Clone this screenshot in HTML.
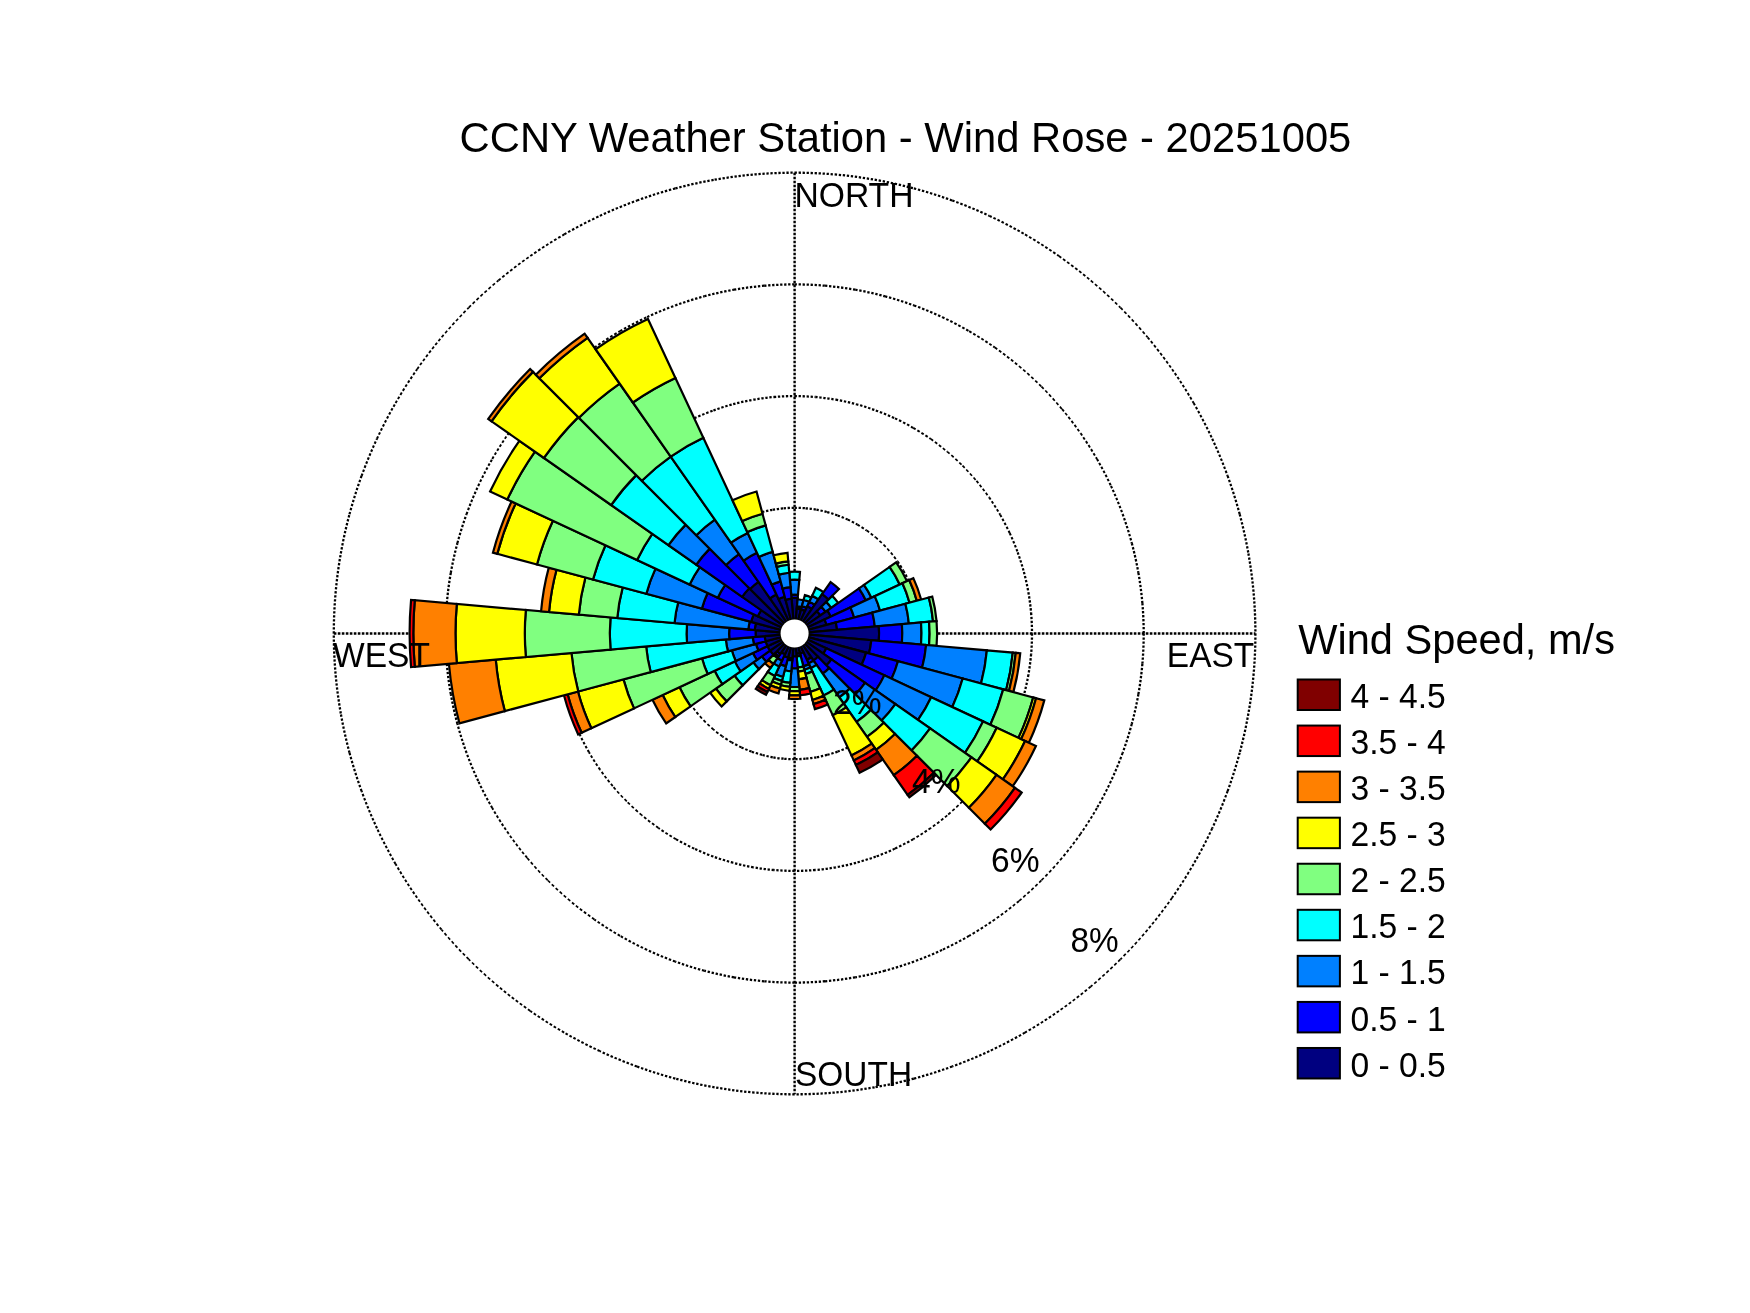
<!DOCTYPE html>
<html><head><meta charset="utf-8"><style>
html,body{margin:0;padding:0;background:#fff;width:1750px;height:1313px;overflow:hidden;position:relative}
</style></head><body>
<svg width="1750" height="1313" viewBox="0 0 1750 1313" style="position:absolute;left:0;top:0;will-change:transform">
<g font-family="Liberation Sans, sans-serif" fill="#000">
<path d="M794.60,507.80 A125.70,125.70 0 0 1 805.56,508.28" fill="none" stroke="#000" stroke-width="2.30" stroke-dasharray="2.30 1.70"/><path d="M805.56,508.28 A125.70,125.70 0 0 1 816.43,509.71" fill="none" stroke="#000" stroke-width="2.28" stroke-dasharray="2.32 1.71"/><path d="M816.43,509.71 A125.70,125.70 0 0 1 827.13,512.08" fill="none" stroke="#000" stroke-width="2.25" stroke-dasharray="2.36 1.74"/><path d="M827.13,512.08 A125.70,125.70 0 0 1 837.59,515.38" fill="none" stroke="#000" stroke-width="2.19" stroke-dasharray="2.41 1.78"/><path d="M837.59,515.38 A125.70,125.70 0 0 1 847.72,519.58" fill="none" stroke="#000" stroke-width="2.12" stroke-dasharray="2.49 1.84"/><path d="M847.72,519.58 A125.70,125.70 0 0 1 857.45,524.64" fill="none" stroke="#000" stroke-width="2.04" stroke-dasharray="2.59 1.92"/><path d="M857.45,524.64 A125.70,125.70 0 0 1 866.70,530.53" fill="none" stroke="#000" stroke-width="1.94" stroke-dasharray="2.73 2.02"/><path d="M866.70,530.53 A125.70,125.70 0 0 1 875.40,537.21" fill="none" stroke="#000" stroke-width="1.82" stroke-dasharray="2.90 2.14"/><path d="M875.40,537.21 A125.70,125.70 0 0 1 883.48,544.62" fill="none" stroke="#000" stroke-width="1.70" stroke-dasharray="3.12 2.31"/><path d="M883.48,544.62 A125.70,125.70 0 0 1 890.89,552.70" fill="none" stroke="#000" stroke-width="1.70" stroke-dasharray="3.12 2.31"/><path d="M890.89,552.70 A125.70,125.70 0 0 1 897.57,561.40" fill="none" stroke="#000" stroke-width="1.82" stroke-dasharray="2.90 2.14"/><path d="M897.57,561.40 A125.70,125.70 0 0 1 903.46,570.65" fill="none" stroke="#000" stroke-width="1.94" stroke-dasharray="2.73 2.02"/><path d="M903.46,570.65 A125.70,125.70 0 0 1 908.52,580.38" fill="none" stroke="#000" stroke-width="2.04" stroke-dasharray="2.59 1.92"/><path d="M908.52,580.38 A125.70,125.70 0 0 1 912.72,590.51" fill="none" stroke="#000" stroke-width="2.12" stroke-dasharray="2.49 1.84"/><path d="M912.72,590.51 A125.70,125.70 0 0 1 916.02,600.97" fill="none" stroke="#000" stroke-width="2.19" stroke-dasharray="2.41 1.78"/><path d="M916.02,600.97 A125.70,125.70 0 0 1 918.39,611.67" fill="none" stroke="#000" stroke-width="2.25" stroke-dasharray="2.36 1.74"/><path d="M918.39,611.67 A125.70,125.70 0 0 1 919.82,622.54" fill="none" stroke="#000" stroke-width="2.28" stroke-dasharray="2.32 1.71"/><path d="M919.82,622.54 A125.70,125.70 0 0 1 920.30,633.50" fill="none" stroke="#000" stroke-width="2.30" stroke-dasharray="2.30 1.70"/><path d="M920.30,633.50 A125.70,125.70 0 0 1 919.82,644.46" fill="none" stroke="#000" stroke-width="2.30" stroke-dasharray="2.30 1.70"/><path d="M919.82,644.46 A125.70,125.70 0 0 1 918.39,655.33" fill="none" stroke="#000" stroke-width="2.28" stroke-dasharray="2.32 1.71"/><path d="M918.39,655.33 A125.70,125.70 0 0 1 916.02,666.03" fill="none" stroke="#000" stroke-width="2.25" stroke-dasharray="2.36 1.74"/><path d="M916.02,666.03 A125.70,125.70 0 0 1 912.72,676.49" fill="none" stroke="#000" stroke-width="2.19" stroke-dasharray="2.41 1.78"/><path d="M912.72,676.49 A125.70,125.70 0 0 1 908.52,686.62" fill="none" stroke="#000" stroke-width="2.12" stroke-dasharray="2.49 1.84"/><path d="M908.52,686.62 A125.70,125.70 0 0 1 903.46,696.35" fill="none" stroke="#000" stroke-width="2.04" stroke-dasharray="2.59 1.92"/><path d="M903.46,696.35 A125.70,125.70 0 0 1 897.57,705.60" fill="none" stroke="#000" stroke-width="1.94" stroke-dasharray="2.73 2.02"/><path d="M897.57,705.60 A125.70,125.70 0 0 1 890.89,714.30" fill="none" stroke="#000" stroke-width="1.82" stroke-dasharray="2.90 2.14"/><path d="M890.89,714.30 A125.70,125.70 0 0 1 883.48,722.38" fill="none" stroke="#000" stroke-width="1.70" stroke-dasharray="3.12 2.31"/><path d="M883.48,722.38 A125.70,125.70 0 0 1 875.40,729.79" fill="none" stroke="#000" stroke-width="1.70" stroke-dasharray="3.12 2.31"/><path d="M875.40,729.79 A125.70,125.70 0 0 1 866.70,736.47" fill="none" stroke="#000" stroke-width="1.82" stroke-dasharray="2.90 2.14"/><path d="M866.70,736.47 A125.70,125.70 0 0 1 857.45,742.36" fill="none" stroke="#000" stroke-width="1.94" stroke-dasharray="2.73 2.02"/><path d="M857.45,742.36 A125.70,125.70 0 0 1 847.72,747.42" fill="none" stroke="#000" stroke-width="2.04" stroke-dasharray="2.59 1.92"/><path d="M847.72,747.42 A125.70,125.70 0 0 1 837.59,751.62" fill="none" stroke="#000" stroke-width="2.12" stroke-dasharray="2.49 1.84"/><path d="M837.59,751.62 A125.70,125.70 0 0 1 827.13,754.92" fill="none" stroke="#000" stroke-width="2.19" stroke-dasharray="2.41 1.78"/><path d="M827.13,754.92 A125.70,125.70 0 0 1 816.43,757.29" fill="none" stroke="#000" stroke-width="2.25" stroke-dasharray="2.36 1.74"/><path d="M816.43,757.29 A125.70,125.70 0 0 1 805.56,758.72" fill="none" stroke="#000" stroke-width="2.28" stroke-dasharray="2.32 1.71"/><path d="M805.56,758.72 A125.70,125.70 0 0 1 794.60,759.20" fill="none" stroke="#000" stroke-width="2.30" stroke-dasharray="2.30 1.70"/><path d="M794.60,759.20 A125.70,125.70 0 0 1 783.64,758.72" fill="none" stroke="#000" stroke-width="2.30" stroke-dasharray="2.30 1.70"/><path d="M783.64,758.72 A125.70,125.70 0 0 1 772.77,757.29" fill="none" stroke="#000" stroke-width="2.28" stroke-dasharray="2.32 1.71"/><path d="M772.77,757.29 A125.70,125.70 0 0 1 762.07,754.92" fill="none" stroke="#000" stroke-width="2.25" stroke-dasharray="2.36 1.74"/><path d="M762.07,754.92 A125.70,125.70 0 0 1 751.61,751.62" fill="none" stroke="#000" stroke-width="2.19" stroke-dasharray="2.41 1.78"/><path d="M751.61,751.62 A125.70,125.70 0 0 1 741.48,747.42" fill="none" stroke="#000" stroke-width="2.12" stroke-dasharray="2.49 1.84"/><path d="M741.48,747.42 A125.70,125.70 0 0 1 731.75,742.36" fill="none" stroke="#000" stroke-width="2.04" stroke-dasharray="2.59 1.92"/><path d="M731.75,742.36 A125.70,125.70 0 0 1 722.50,736.47" fill="none" stroke="#000" stroke-width="1.94" stroke-dasharray="2.73 2.02"/><path d="M722.50,736.47 A125.70,125.70 0 0 1 713.80,729.79" fill="none" stroke="#000" stroke-width="1.82" stroke-dasharray="2.90 2.14"/><path d="M713.80,729.79 A125.70,125.70 0 0 1 705.72,722.38" fill="none" stroke="#000" stroke-width="1.70" stroke-dasharray="3.12 2.31"/><path d="M705.72,722.38 A125.70,125.70 0 0 1 698.31,714.30" fill="none" stroke="#000" stroke-width="1.70" stroke-dasharray="3.12 2.31"/><path d="M698.31,714.30 A125.70,125.70 0 0 1 691.63,705.60" fill="none" stroke="#000" stroke-width="1.82" stroke-dasharray="2.90 2.14"/><path d="M691.63,705.60 A125.70,125.70 0 0 1 685.74,696.35" fill="none" stroke="#000" stroke-width="1.94" stroke-dasharray="2.73 2.02"/><path d="M685.74,696.35 A125.70,125.70 0 0 1 680.68,686.62" fill="none" stroke="#000" stroke-width="2.04" stroke-dasharray="2.59 1.92"/><path d="M680.68,686.62 A125.70,125.70 0 0 1 676.48,676.49" fill="none" stroke="#000" stroke-width="2.12" stroke-dasharray="2.49 1.84"/><path d="M676.48,676.49 A125.70,125.70 0 0 1 673.18,666.03" fill="none" stroke="#000" stroke-width="2.19" stroke-dasharray="2.41 1.78"/><path d="M673.18,666.03 A125.70,125.70 0 0 1 670.81,655.33" fill="none" stroke="#000" stroke-width="2.25" stroke-dasharray="2.36 1.74"/><path d="M670.81,655.33 A125.70,125.70 0 0 1 669.38,644.46" fill="none" stroke="#000" stroke-width="2.28" stroke-dasharray="2.32 1.71"/><path d="M669.38,644.46 A125.70,125.70 0 0 1 668.90,633.50" fill="none" stroke="#000" stroke-width="2.30" stroke-dasharray="2.30 1.70"/><path d="M668.90,633.50 A125.70,125.70 0 0 1 669.38,622.54" fill="none" stroke="#000" stroke-width="2.30" stroke-dasharray="2.30 1.70"/><path d="M669.38,622.54 A125.70,125.70 0 0 1 670.81,611.67" fill="none" stroke="#000" stroke-width="2.28" stroke-dasharray="2.32 1.71"/><path d="M670.81,611.67 A125.70,125.70 0 0 1 673.18,600.97" fill="none" stroke="#000" stroke-width="2.25" stroke-dasharray="2.36 1.74"/><path d="M673.18,600.97 A125.70,125.70 0 0 1 676.48,590.51" fill="none" stroke="#000" stroke-width="2.19" stroke-dasharray="2.41 1.78"/><path d="M676.48,590.51 A125.70,125.70 0 0 1 680.68,580.38" fill="none" stroke="#000" stroke-width="2.12" stroke-dasharray="2.49 1.84"/><path d="M680.68,580.38 A125.70,125.70 0 0 1 685.74,570.65" fill="none" stroke="#000" stroke-width="2.04" stroke-dasharray="2.59 1.92"/><path d="M685.74,570.65 A125.70,125.70 0 0 1 691.63,561.40" fill="none" stroke="#000" stroke-width="1.94" stroke-dasharray="2.73 2.02"/><path d="M691.63,561.40 A125.70,125.70 0 0 1 698.31,552.70" fill="none" stroke="#000" stroke-width="1.82" stroke-dasharray="2.90 2.14"/><path d="M698.31,552.70 A125.70,125.70 0 0 1 705.72,544.62" fill="none" stroke="#000" stroke-width="1.70" stroke-dasharray="3.12 2.31"/><path d="M705.72,544.62 A125.70,125.70 0 0 1 713.80,537.21" fill="none" stroke="#000" stroke-width="1.70" stroke-dasharray="3.12 2.31"/><path d="M713.80,537.21 A125.70,125.70 0 0 1 722.50,530.53" fill="none" stroke="#000" stroke-width="1.82" stroke-dasharray="2.90 2.14"/><path d="M722.50,530.53 A125.70,125.70 0 0 1 731.75,524.64" fill="none" stroke="#000" stroke-width="1.94" stroke-dasharray="2.73 2.02"/><path d="M731.75,524.64 A125.70,125.70 0 0 1 741.48,519.58" fill="none" stroke="#000" stroke-width="2.04" stroke-dasharray="2.59 1.92"/><path d="M741.48,519.58 A125.70,125.70 0 0 1 751.61,515.38" fill="none" stroke="#000" stroke-width="2.12" stroke-dasharray="2.49 1.84"/><path d="M751.61,515.38 A125.70,125.70 0 0 1 762.07,512.08" fill="none" stroke="#000" stroke-width="2.19" stroke-dasharray="2.41 1.78"/><path d="M762.07,512.08 A125.70,125.70 0 0 1 772.77,509.71" fill="none" stroke="#000" stroke-width="2.25" stroke-dasharray="2.36 1.74"/><path d="M772.77,509.71 A125.70,125.70 0 0 1 783.64,508.28" fill="none" stroke="#000" stroke-width="2.28" stroke-dasharray="2.32 1.71"/><path d="M783.64,508.28 A125.70,125.70 0 0 1 794.60,507.80" fill="none" stroke="#000" stroke-width="2.30" stroke-dasharray="2.30 1.70"/><path d="M794.60,396.10 A237.40,237.40 0 0 1 815.29,397.00" fill="none" stroke="#000" stroke-width="2.30" stroke-dasharray="2.30 1.70"/><path d="M815.29,397.00 A237.40,237.40 0 0 1 835.82,399.71" fill="none" stroke="#000" stroke-width="2.28" stroke-dasharray="2.32 1.71"/><path d="M835.82,399.71 A237.40,237.40 0 0 1 856.04,404.19" fill="none" stroke="#000" stroke-width="2.25" stroke-dasharray="2.36 1.74"/><path d="M856.04,404.19 A237.40,237.40 0 0 1 875.80,410.42" fill="none" stroke="#000" stroke-width="2.19" stroke-dasharray="2.41 1.78"/><path d="M875.80,410.42 A237.40,237.40 0 0 1 894.93,418.34" fill="none" stroke="#000" stroke-width="2.12" stroke-dasharray="2.49 1.84"/><path d="M894.93,418.34 A237.40,237.40 0 0 1 913.30,427.91" fill="none" stroke="#000" stroke-width="2.04" stroke-dasharray="2.59 1.92"/><path d="M913.30,427.91 A237.40,237.40 0 0 1 930.77,439.03" fill="none" stroke="#000" stroke-width="1.94" stroke-dasharray="2.73 2.02"/><path d="M930.77,439.03 A237.40,237.40 0 0 1 947.20,451.64" fill="none" stroke="#000" stroke-width="1.82" stroke-dasharray="2.90 2.14"/><path d="M947.20,451.64 A237.40,237.40 0 0 1 962.47,465.63" fill="none" stroke="#000" stroke-width="1.70" stroke-dasharray="3.12 2.31"/><path d="M962.47,465.63 A237.40,237.40 0 0 1 976.46,480.90" fill="none" stroke="#000" stroke-width="1.70" stroke-dasharray="3.12 2.31"/><path d="M976.46,480.90 A237.40,237.40 0 0 1 989.07,497.33" fill="none" stroke="#000" stroke-width="1.82" stroke-dasharray="2.90 2.14"/><path d="M989.07,497.33 A237.40,237.40 0 0 1 1000.19,514.80" fill="none" stroke="#000" stroke-width="1.94" stroke-dasharray="2.73 2.02"/><path d="M1000.19,514.80 A237.40,237.40 0 0 1 1009.76,533.17" fill="none" stroke="#000" stroke-width="2.04" stroke-dasharray="2.59 1.92"/><path d="M1009.76,533.17 A237.40,237.40 0 0 1 1017.68,552.30" fill="none" stroke="#000" stroke-width="2.12" stroke-dasharray="2.49 1.84"/><path d="M1017.68,552.30 A237.40,237.40 0 0 1 1023.91,572.06" fill="none" stroke="#000" stroke-width="2.19" stroke-dasharray="2.41 1.78"/><path d="M1023.91,572.06 A237.40,237.40 0 0 1 1028.39,592.28" fill="none" stroke="#000" stroke-width="2.25" stroke-dasharray="2.36 1.74"/><path d="M1028.39,592.28 A237.40,237.40 0 0 1 1031.10,612.81" fill="none" stroke="#000" stroke-width="2.28" stroke-dasharray="2.32 1.71"/><path d="M1031.10,612.81 A237.40,237.40 0 0 1 1032.00,633.50" fill="none" stroke="#000" stroke-width="2.30" stroke-dasharray="2.30 1.70"/><path d="M1032.00,633.50 A237.40,237.40 0 0 1 1031.10,654.19" fill="none" stroke="#000" stroke-width="2.30" stroke-dasharray="2.30 1.70"/><path d="M1031.10,654.19 A237.40,237.40 0 0 1 1028.39,674.72" fill="none" stroke="#000" stroke-width="2.28" stroke-dasharray="2.32 1.71"/><path d="M1028.39,674.72 A237.40,237.40 0 0 1 1023.91,694.94" fill="none" stroke="#000" stroke-width="2.25" stroke-dasharray="2.36 1.74"/><path d="M1023.91,694.94 A237.40,237.40 0 0 1 1017.68,714.70" fill="none" stroke="#000" stroke-width="2.19" stroke-dasharray="2.41 1.78"/><path d="M1017.68,714.70 A237.40,237.40 0 0 1 1009.76,733.83" fill="none" stroke="#000" stroke-width="2.12" stroke-dasharray="2.49 1.84"/><path d="M1009.76,733.83 A237.40,237.40 0 0 1 1000.19,752.20" fill="none" stroke="#000" stroke-width="2.04" stroke-dasharray="2.59 1.92"/><path d="M1000.19,752.20 A237.40,237.40 0 0 1 989.07,769.67" fill="none" stroke="#000" stroke-width="1.94" stroke-dasharray="2.73 2.02"/><path d="M989.07,769.67 A237.40,237.40 0 0 1 976.46,786.10" fill="none" stroke="#000" stroke-width="1.82" stroke-dasharray="2.90 2.14"/><path d="M976.46,786.10 A237.40,237.40 0 0 1 962.47,801.37" fill="none" stroke="#000" stroke-width="1.70" stroke-dasharray="3.12 2.31"/><path d="M962.47,801.37 A237.40,237.40 0 0 1 947.20,815.36" fill="none" stroke="#000" stroke-width="1.70" stroke-dasharray="3.12 2.31"/><path d="M947.20,815.36 A237.40,237.40 0 0 1 930.77,827.97" fill="none" stroke="#000" stroke-width="1.82" stroke-dasharray="2.90 2.14"/><path d="M930.77,827.97 A237.40,237.40 0 0 1 913.30,839.09" fill="none" stroke="#000" stroke-width="1.94" stroke-dasharray="2.73 2.02"/><path d="M913.30,839.09 A237.40,237.40 0 0 1 894.93,848.66" fill="none" stroke="#000" stroke-width="2.04" stroke-dasharray="2.59 1.92"/><path d="M894.93,848.66 A237.40,237.40 0 0 1 875.80,856.58" fill="none" stroke="#000" stroke-width="2.12" stroke-dasharray="2.49 1.84"/><path d="M875.80,856.58 A237.40,237.40 0 0 1 856.04,862.81" fill="none" stroke="#000" stroke-width="2.19" stroke-dasharray="2.41 1.78"/><path d="M856.04,862.81 A237.40,237.40 0 0 1 835.82,867.29" fill="none" stroke="#000" stroke-width="2.25" stroke-dasharray="2.36 1.74"/><path d="M835.82,867.29 A237.40,237.40 0 0 1 815.29,870.00" fill="none" stroke="#000" stroke-width="2.28" stroke-dasharray="2.32 1.71"/><path d="M815.29,870.00 A237.40,237.40 0 0 1 794.60,870.90" fill="none" stroke="#000" stroke-width="2.30" stroke-dasharray="2.30 1.70"/><path d="M794.60,870.90 A237.40,237.40 0 0 1 773.91,870.00" fill="none" stroke="#000" stroke-width="2.30" stroke-dasharray="2.30 1.70"/><path d="M773.91,870.00 A237.40,237.40 0 0 1 753.38,867.29" fill="none" stroke="#000" stroke-width="2.28" stroke-dasharray="2.32 1.71"/><path d="M753.38,867.29 A237.40,237.40 0 0 1 733.16,862.81" fill="none" stroke="#000" stroke-width="2.25" stroke-dasharray="2.36 1.74"/><path d="M733.16,862.81 A237.40,237.40 0 0 1 713.40,856.58" fill="none" stroke="#000" stroke-width="2.19" stroke-dasharray="2.41 1.78"/><path d="M713.40,856.58 A237.40,237.40 0 0 1 694.27,848.66" fill="none" stroke="#000" stroke-width="2.12" stroke-dasharray="2.49 1.84"/><path d="M694.27,848.66 A237.40,237.40 0 0 1 675.90,839.09" fill="none" stroke="#000" stroke-width="2.04" stroke-dasharray="2.59 1.92"/><path d="M675.90,839.09 A237.40,237.40 0 0 1 658.43,827.97" fill="none" stroke="#000" stroke-width="1.94" stroke-dasharray="2.73 2.02"/><path d="M658.43,827.97 A237.40,237.40 0 0 1 642.00,815.36" fill="none" stroke="#000" stroke-width="1.82" stroke-dasharray="2.90 2.14"/><path d="M642.00,815.36 A237.40,237.40 0 0 1 626.73,801.37" fill="none" stroke="#000" stroke-width="1.70" stroke-dasharray="3.12 2.31"/><path d="M626.73,801.37 A237.40,237.40 0 0 1 612.74,786.10" fill="none" stroke="#000" stroke-width="1.70" stroke-dasharray="3.12 2.31"/><path d="M612.74,786.10 A237.40,237.40 0 0 1 600.13,769.67" fill="none" stroke="#000" stroke-width="1.82" stroke-dasharray="2.90 2.14"/><path d="M600.13,769.67 A237.40,237.40 0 0 1 589.01,752.20" fill="none" stroke="#000" stroke-width="1.94" stroke-dasharray="2.73 2.02"/><path d="M589.01,752.20 A237.40,237.40 0 0 1 579.44,733.83" fill="none" stroke="#000" stroke-width="2.04" stroke-dasharray="2.59 1.92"/><path d="M579.44,733.83 A237.40,237.40 0 0 1 571.52,714.70" fill="none" stroke="#000" stroke-width="2.12" stroke-dasharray="2.49 1.84"/><path d="M571.52,714.70 A237.40,237.40 0 0 1 565.29,694.94" fill="none" stroke="#000" stroke-width="2.19" stroke-dasharray="2.41 1.78"/><path d="M565.29,694.94 A237.40,237.40 0 0 1 560.81,674.72" fill="none" stroke="#000" stroke-width="2.25" stroke-dasharray="2.36 1.74"/><path d="M560.81,674.72 A237.40,237.40 0 0 1 558.10,654.19" fill="none" stroke="#000" stroke-width="2.28" stroke-dasharray="2.32 1.71"/><path d="M558.10,654.19 A237.40,237.40 0 0 1 557.20,633.50" fill="none" stroke="#000" stroke-width="2.30" stroke-dasharray="2.30 1.70"/><path d="M557.20,633.50 A237.40,237.40 0 0 1 558.10,612.81" fill="none" stroke="#000" stroke-width="2.30" stroke-dasharray="2.30 1.70"/><path d="M558.10,612.81 A237.40,237.40 0 0 1 560.81,592.28" fill="none" stroke="#000" stroke-width="2.28" stroke-dasharray="2.32 1.71"/><path d="M560.81,592.28 A237.40,237.40 0 0 1 565.29,572.06" fill="none" stroke="#000" stroke-width="2.25" stroke-dasharray="2.36 1.74"/><path d="M565.29,572.06 A237.40,237.40 0 0 1 571.52,552.30" fill="none" stroke="#000" stroke-width="2.19" stroke-dasharray="2.41 1.78"/><path d="M571.52,552.30 A237.40,237.40 0 0 1 579.44,533.17" fill="none" stroke="#000" stroke-width="2.12" stroke-dasharray="2.49 1.84"/><path d="M579.44,533.17 A237.40,237.40 0 0 1 589.01,514.80" fill="none" stroke="#000" stroke-width="2.04" stroke-dasharray="2.59 1.92"/><path d="M589.01,514.80 A237.40,237.40 0 0 1 600.13,497.33" fill="none" stroke="#000" stroke-width="1.94" stroke-dasharray="2.73 2.02"/><path d="M600.13,497.33 A237.40,237.40 0 0 1 612.74,480.90" fill="none" stroke="#000" stroke-width="1.82" stroke-dasharray="2.90 2.14"/><path d="M612.74,480.90 A237.40,237.40 0 0 1 626.73,465.63" fill="none" stroke="#000" stroke-width="1.70" stroke-dasharray="3.12 2.31"/><path d="M626.73,465.63 A237.40,237.40 0 0 1 642.00,451.64" fill="none" stroke="#000" stroke-width="1.70" stroke-dasharray="3.12 2.31"/><path d="M642.00,451.64 A237.40,237.40 0 0 1 658.43,439.03" fill="none" stroke="#000" stroke-width="1.82" stroke-dasharray="2.90 2.14"/><path d="M658.43,439.03 A237.40,237.40 0 0 1 675.90,427.91" fill="none" stroke="#000" stroke-width="1.94" stroke-dasharray="2.73 2.02"/><path d="M675.90,427.91 A237.40,237.40 0 0 1 694.27,418.34" fill="none" stroke="#000" stroke-width="2.04" stroke-dasharray="2.59 1.92"/><path d="M694.27,418.34 A237.40,237.40 0 0 1 713.40,410.42" fill="none" stroke="#000" stroke-width="2.12" stroke-dasharray="2.49 1.84"/><path d="M713.40,410.42 A237.40,237.40 0 0 1 733.16,404.19" fill="none" stroke="#000" stroke-width="2.19" stroke-dasharray="2.41 1.78"/><path d="M733.16,404.19 A237.40,237.40 0 0 1 753.38,399.71" fill="none" stroke="#000" stroke-width="2.25" stroke-dasharray="2.36 1.74"/><path d="M753.38,399.71 A237.40,237.40 0 0 1 773.91,397.00" fill="none" stroke="#000" stroke-width="2.28" stroke-dasharray="2.32 1.71"/><path d="M773.91,397.00 A237.40,237.40 0 0 1 794.60,396.10" fill="none" stroke="#000" stroke-width="2.30" stroke-dasharray="2.30 1.70"/><path d="M794.60,284.40 A349.10,349.10 0 0 1 825.03,285.73" fill="none" stroke="#000" stroke-width="2.30" stroke-dasharray="2.30 1.70"/><path d="M825.03,285.73 A349.10,349.10 0 0 1 855.22,289.70" fill="none" stroke="#000" stroke-width="2.28" stroke-dasharray="2.32 1.71"/><path d="M855.22,289.70 A349.10,349.10 0 0 1 884.95,296.30" fill="none" stroke="#000" stroke-width="2.25" stroke-dasharray="2.36 1.74"/><path d="M884.95,296.30 A349.10,349.10 0 0 1 914.00,305.45" fill="none" stroke="#000" stroke-width="2.19" stroke-dasharray="2.41 1.78"/><path d="M914.00,305.45 A349.10,349.10 0 0 1 942.14,317.11" fill="none" stroke="#000" stroke-width="2.12" stroke-dasharray="2.49 1.84"/><path d="M942.14,317.11 A349.10,349.10 0 0 1 969.15,331.17" fill="none" stroke="#000" stroke-width="2.04" stroke-dasharray="2.59 1.92"/><path d="M969.15,331.17 A349.10,349.10 0 0 1 994.84,347.53" fill="none" stroke="#000" stroke-width="1.94" stroke-dasharray="2.73 2.02"/><path d="M994.84,347.53 A349.10,349.10 0 0 1 1019.00,366.07" fill="none" stroke="#000" stroke-width="1.82" stroke-dasharray="2.90 2.14"/><path d="M1019.00,366.07 A349.10,349.10 0 0 1 1041.45,386.65" fill="none" stroke="#000" stroke-width="1.70" stroke-dasharray="3.12 2.31"/><path d="M1041.45,386.65 A349.10,349.10 0 0 1 1062.03,409.10" fill="none" stroke="#000" stroke-width="1.70" stroke-dasharray="3.12 2.31"/><path d="M1062.03,409.10 A349.10,349.10 0 0 1 1080.57,433.26" fill="none" stroke="#000" stroke-width="1.82" stroke-dasharray="2.90 2.14"/><path d="M1080.57,433.26 A349.10,349.10 0 0 1 1096.93,458.95" fill="none" stroke="#000" stroke-width="1.94" stroke-dasharray="2.73 2.02"/><path d="M1096.93,458.95 A349.10,349.10 0 0 1 1110.99,485.96" fill="none" stroke="#000" stroke-width="2.04" stroke-dasharray="2.59 1.92"/><path d="M1110.99,485.96 A349.10,349.10 0 0 1 1122.65,514.10" fill="none" stroke="#000" stroke-width="2.12" stroke-dasharray="2.49 1.84"/><path d="M1122.65,514.10 A349.10,349.10 0 0 1 1131.80,543.15" fill="none" stroke="#000" stroke-width="2.19" stroke-dasharray="2.41 1.78"/><path d="M1131.80,543.15 A349.10,349.10 0 0 1 1138.40,572.88" fill="none" stroke="#000" stroke-width="2.25" stroke-dasharray="2.36 1.74"/><path d="M1138.40,572.88 A349.10,349.10 0 0 1 1142.37,603.07" fill="none" stroke="#000" stroke-width="2.28" stroke-dasharray="2.32 1.71"/><path d="M1142.37,603.07 A349.10,349.10 0 0 1 1143.70,633.50" fill="none" stroke="#000" stroke-width="2.30" stroke-dasharray="2.30 1.70"/><path d="M1143.70,633.50 A349.10,349.10 0 0 1 1142.37,663.93" fill="none" stroke="#000" stroke-width="2.30" stroke-dasharray="2.30 1.70"/><path d="M1142.37,663.93 A349.10,349.10 0 0 1 1138.40,694.12" fill="none" stroke="#000" stroke-width="2.28" stroke-dasharray="2.32 1.71"/><path d="M1138.40,694.12 A349.10,349.10 0 0 1 1131.80,723.85" fill="none" stroke="#000" stroke-width="2.25" stroke-dasharray="2.36 1.74"/><path d="M1131.80,723.85 A349.10,349.10 0 0 1 1122.65,752.90" fill="none" stroke="#000" stroke-width="2.19" stroke-dasharray="2.41 1.78"/><path d="M1122.65,752.90 A349.10,349.10 0 0 1 1110.99,781.04" fill="none" stroke="#000" stroke-width="2.12" stroke-dasharray="2.49 1.84"/><path d="M1110.99,781.04 A349.10,349.10 0 0 1 1096.93,808.05" fill="none" stroke="#000" stroke-width="2.04" stroke-dasharray="2.59 1.92"/><path d="M1096.93,808.05 A349.10,349.10 0 0 1 1080.57,833.74" fill="none" stroke="#000" stroke-width="1.94" stroke-dasharray="2.73 2.02"/><path d="M1080.57,833.74 A349.10,349.10 0 0 1 1062.03,857.90" fill="none" stroke="#000" stroke-width="1.82" stroke-dasharray="2.90 2.14"/><path d="M1062.03,857.90 A349.10,349.10 0 0 1 1041.45,880.35" fill="none" stroke="#000" stroke-width="1.70" stroke-dasharray="3.12 2.31"/><path d="M1041.45,880.35 A349.10,349.10 0 0 1 1019.00,900.93" fill="none" stroke="#000" stroke-width="1.70" stroke-dasharray="3.12 2.31"/><path d="M1019.00,900.93 A349.10,349.10 0 0 1 994.84,919.47" fill="none" stroke="#000" stroke-width="1.82" stroke-dasharray="2.90 2.14"/><path d="M994.84,919.47 A349.10,349.10 0 0 1 969.15,935.83" fill="none" stroke="#000" stroke-width="1.94" stroke-dasharray="2.73 2.02"/><path d="M969.15,935.83 A349.10,349.10 0 0 1 942.14,949.89" fill="none" stroke="#000" stroke-width="2.04" stroke-dasharray="2.59 1.92"/><path d="M942.14,949.89 A349.10,349.10 0 0 1 914.00,961.55" fill="none" stroke="#000" stroke-width="2.12" stroke-dasharray="2.49 1.84"/><path d="M914.00,961.55 A349.10,349.10 0 0 1 884.95,970.70" fill="none" stroke="#000" stroke-width="2.19" stroke-dasharray="2.41 1.78"/><path d="M884.95,970.70 A349.10,349.10 0 0 1 855.22,977.30" fill="none" stroke="#000" stroke-width="2.25" stroke-dasharray="2.36 1.74"/><path d="M855.22,977.30 A349.10,349.10 0 0 1 825.03,981.27" fill="none" stroke="#000" stroke-width="2.28" stroke-dasharray="2.32 1.71"/><path d="M825.03,981.27 A349.10,349.10 0 0 1 794.60,982.60" fill="none" stroke="#000" stroke-width="2.30" stroke-dasharray="2.30 1.70"/><path d="M794.60,982.60 A349.10,349.10 0 0 1 764.17,981.27" fill="none" stroke="#000" stroke-width="2.30" stroke-dasharray="2.30 1.70"/><path d="M764.17,981.27 A349.10,349.10 0 0 1 733.98,977.30" fill="none" stroke="#000" stroke-width="2.28" stroke-dasharray="2.32 1.71"/><path d="M733.98,977.30 A349.10,349.10 0 0 1 704.25,970.70" fill="none" stroke="#000" stroke-width="2.25" stroke-dasharray="2.36 1.74"/><path d="M704.25,970.70 A349.10,349.10 0 0 1 675.20,961.55" fill="none" stroke="#000" stroke-width="2.19" stroke-dasharray="2.41 1.78"/><path d="M675.20,961.55 A349.10,349.10 0 0 1 647.06,949.89" fill="none" stroke="#000" stroke-width="2.12" stroke-dasharray="2.49 1.84"/><path d="M647.06,949.89 A349.10,349.10 0 0 1 620.05,935.83" fill="none" stroke="#000" stroke-width="2.04" stroke-dasharray="2.59 1.92"/><path d="M620.05,935.83 A349.10,349.10 0 0 1 594.36,919.47" fill="none" stroke="#000" stroke-width="1.94" stroke-dasharray="2.73 2.02"/><path d="M594.36,919.47 A349.10,349.10 0 0 1 570.20,900.93" fill="none" stroke="#000" stroke-width="1.82" stroke-dasharray="2.90 2.14"/><path d="M570.20,900.93 A349.10,349.10 0 0 1 547.75,880.35" fill="none" stroke="#000" stroke-width="1.70" stroke-dasharray="3.12 2.31"/><path d="M547.75,880.35 A349.10,349.10 0 0 1 527.17,857.90" fill="none" stroke="#000" stroke-width="1.70" stroke-dasharray="3.12 2.31"/><path d="M527.17,857.90 A349.10,349.10 0 0 1 508.63,833.74" fill="none" stroke="#000" stroke-width="1.82" stroke-dasharray="2.90 2.14"/><path d="M508.63,833.74 A349.10,349.10 0 0 1 492.27,808.05" fill="none" stroke="#000" stroke-width="1.94" stroke-dasharray="2.73 2.02"/><path d="M492.27,808.05 A349.10,349.10 0 0 1 478.21,781.04" fill="none" stroke="#000" stroke-width="2.04" stroke-dasharray="2.59 1.92"/><path d="M478.21,781.04 A349.10,349.10 0 0 1 466.55,752.90" fill="none" stroke="#000" stroke-width="2.12" stroke-dasharray="2.49 1.84"/><path d="M466.55,752.90 A349.10,349.10 0 0 1 457.40,723.85" fill="none" stroke="#000" stroke-width="2.19" stroke-dasharray="2.41 1.78"/><path d="M457.40,723.85 A349.10,349.10 0 0 1 450.80,694.12" fill="none" stroke="#000" stroke-width="2.25" stroke-dasharray="2.36 1.74"/><path d="M450.80,694.12 A349.10,349.10 0 0 1 446.83,663.93" fill="none" stroke="#000" stroke-width="2.28" stroke-dasharray="2.32 1.71"/><path d="M446.83,663.93 A349.10,349.10 0 0 1 445.50,633.50" fill="none" stroke="#000" stroke-width="2.30" stroke-dasharray="2.30 1.70"/><path d="M445.50,633.50 A349.10,349.10 0 0 1 446.83,603.07" fill="none" stroke="#000" stroke-width="2.30" stroke-dasharray="2.30 1.70"/><path d="M446.83,603.07 A349.10,349.10 0 0 1 450.80,572.88" fill="none" stroke="#000" stroke-width="2.28" stroke-dasharray="2.32 1.71"/><path d="M450.80,572.88 A349.10,349.10 0 0 1 457.40,543.15" fill="none" stroke="#000" stroke-width="2.25" stroke-dasharray="2.36 1.74"/><path d="M457.40,543.15 A349.10,349.10 0 0 1 466.55,514.10" fill="none" stroke="#000" stroke-width="2.19" stroke-dasharray="2.41 1.78"/><path d="M466.55,514.10 A349.10,349.10 0 0 1 478.21,485.96" fill="none" stroke="#000" stroke-width="2.12" stroke-dasharray="2.49 1.84"/><path d="M478.21,485.96 A349.10,349.10 0 0 1 492.27,458.95" fill="none" stroke="#000" stroke-width="2.04" stroke-dasharray="2.59 1.92"/><path d="M492.27,458.95 A349.10,349.10 0 0 1 508.63,433.26" fill="none" stroke="#000" stroke-width="1.94" stroke-dasharray="2.73 2.02"/><path d="M508.63,433.26 A349.10,349.10 0 0 1 527.17,409.10" fill="none" stroke="#000" stroke-width="1.82" stroke-dasharray="2.90 2.14"/><path d="M527.17,409.10 A349.10,349.10 0 0 1 547.75,386.65" fill="none" stroke="#000" stroke-width="1.70" stroke-dasharray="3.12 2.31"/><path d="M547.75,386.65 A349.10,349.10 0 0 1 570.20,366.07" fill="none" stroke="#000" stroke-width="1.70" stroke-dasharray="3.12 2.31"/><path d="M570.20,366.07 A349.10,349.10 0 0 1 594.36,347.53" fill="none" stroke="#000" stroke-width="1.82" stroke-dasharray="2.90 2.14"/><path d="M594.36,347.53 A349.10,349.10 0 0 1 620.05,331.17" fill="none" stroke="#000" stroke-width="1.94" stroke-dasharray="2.73 2.02"/><path d="M620.05,331.17 A349.10,349.10 0 0 1 647.06,317.11" fill="none" stroke="#000" stroke-width="2.04" stroke-dasharray="2.59 1.92"/><path d="M647.06,317.11 A349.10,349.10 0 0 1 675.20,305.45" fill="none" stroke="#000" stroke-width="2.12" stroke-dasharray="2.49 1.84"/><path d="M675.20,305.45 A349.10,349.10 0 0 1 704.25,296.30" fill="none" stroke="#000" stroke-width="2.19" stroke-dasharray="2.41 1.78"/><path d="M704.25,296.30 A349.10,349.10 0 0 1 733.98,289.70" fill="none" stroke="#000" stroke-width="2.25" stroke-dasharray="2.36 1.74"/><path d="M733.98,289.70 A349.10,349.10 0 0 1 764.17,285.73" fill="none" stroke="#000" stroke-width="2.28" stroke-dasharray="2.32 1.71"/><path d="M764.17,285.73 A349.10,349.10 0 0 1 794.60,284.40" fill="none" stroke="#000" stroke-width="2.30" stroke-dasharray="2.30 1.70"/><path d="M794.60,172.70 A460.80,460.80 0 0 1 834.76,174.45" fill="none" stroke="#000" stroke-width="2.30" stroke-dasharray="2.30 1.70"/><path d="M834.76,174.45 A460.80,460.80 0 0 1 874.62,179.70" fill="none" stroke="#000" stroke-width="2.28" stroke-dasharray="2.32 1.71"/><path d="M874.62,179.70 A460.80,460.80 0 0 1 913.86,188.40" fill="none" stroke="#000" stroke-width="2.25" stroke-dasharray="2.36 1.74"/><path d="M913.86,188.40 A460.80,460.80 0 0 1 952.20,200.49" fill="none" stroke="#000" stroke-width="2.19" stroke-dasharray="2.41 1.78"/><path d="M952.20,200.49 A460.80,460.80 0 0 1 989.34,215.87" fill="none" stroke="#000" stroke-width="2.12" stroke-dasharray="2.49 1.84"/><path d="M989.34,215.87 A460.80,460.80 0 0 1 1025.00,234.44" fill="none" stroke="#000" stroke-width="2.04" stroke-dasharray="2.59 1.92"/><path d="M1025.00,234.44 A460.80,460.80 0 0 1 1058.90,256.03" fill="none" stroke="#000" stroke-width="1.94" stroke-dasharray="2.73 2.02"/><path d="M1058.90,256.03 A460.80,460.80 0 0 1 1090.80,280.51" fill="none" stroke="#000" stroke-width="1.82" stroke-dasharray="2.90 2.14"/><path d="M1090.80,280.51 A460.80,460.80 0 0 1 1120.43,307.67" fill="none" stroke="#000" stroke-width="1.70" stroke-dasharray="3.12 2.31"/><path d="M1120.43,307.67 A460.80,460.80 0 0 1 1147.59,337.30" fill="none" stroke="#000" stroke-width="1.70" stroke-dasharray="3.12 2.31"/><path d="M1147.59,337.30 A460.80,460.80 0 0 1 1172.07,369.20" fill="none" stroke="#000" stroke-width="1.82" stroke-dasharray="2.90 2.14"/><path d="M1172.07,369.20 A460.80,460.80 0 0 1 1193.66,403.10" fill="none" stroke="#000" stroke-width="1.94" stroke-dasharray="2.73 2.02"/><path d="M1193.66,403.10 A460.80,460.80 0 0 1 1212.23,438.76" fill="none" stroke="#000" stroke-width="2.04" stroke-dasharray="2.59 1.92"/><path d="M1212.23,438.76 A460.80,460.80 0 0 1 1227.61,475.90" fill="none" stroke="#000" stroke-width="2.12" stroke-dasharray="2.49 1.84"/><path d="M1227.61,475.90 A460.80,460.80 0 0 1 1239.70,514.24" fill="none" stroke="#000" stroke-width="2.19" stroke-dasharray="2.41 1.78"/><path d="M1239.70,514.24 A460.80,460.80 0 0 1 1248.40,553.48" fill="none" stroke="#000" stroke-width="2.25" stroke-dasharray="2.36 1.74"/><path d="M1248.40,553.48 A460.80,460.80 0 0 1 1253.65,593.34" fill="none" stroke="#000" stroke-width="2.28" stroke-dasharray="2.32 1.71"/><path d="M1253.65,593.34 A460.80,460.80 0 0 1 1255.40,633.50" fill="none" stroke="#000" stroke-width="2.30" stroke-dasharray="2.30 1.70"/><path d="M1255.40,633.50 A460.80,460.80 0 0 1 1253.65,673.66" fill="none" stroke="#000" stroke-width="2.30" stroke-dasharray="2.30 1.70"/><path d="M1253.65,673.66 A460.80,460.80 0 0 1 1248.40,713.52" fill="none" stroke="#000" stroke-width="2.28" stroke-dasharray="2.32 1.71"/><path d="M1248.40,713.52 A460.80,460.80 0 0 1 1239.70,752.76" fill="none" stroke="#000" stroke-width="2.25" stroke-dasharray="2.36 1.74"/><path d="M1239.70,752.76 A460.80,460.80 0 0 1 1227.61,791.10" fill="none" stroke="#000" stroke-width="2.19" stroke-dasharray="2.41 1.78"/><path d="M1227.61,791.10 A460.80,460.80 0 0 1 1212.23,828.24" fill="none" stroke="#000" stroke-width="2.12" stroke-dasharray="2.49 1.84"/><path d="M1212.23,828.24 A460.80,460.80 0 0 1 1193.66,863.90" fill="none" stroke="#000" stroke-width="2.04" stroke-dasharray="2.59 1.92"/><path d="M1193.66,863.90 A460.80,460.80 0 0 1 1172.07,897.80" fill="none" stroke="#000" stroke-width="1.94" stroke-dasharray="2.73 2.02"/><path d="M1172.07,897.80 A460.80,460.80 0 0 1 1147.59,929.70" fill="none" stroke="#000" stroke-width="1.82" stroke-dasharray="2.90 2.14"/><path d="M1147.59,929.70 A460.80,460.80 0 0 1 1120.43,959.33" fill="none" stroke="#000" stroke-width="1.70" stroke-dasharray="3.12 2.31"/><path d="M1120.43,959.33 A460.80,460.80 0 0 1 1090.80,986.49" fill="none" stroke="#000" stroke-width="1.70" stroke-dasharray="3.12 2.31"/><path d="M1090.80,986.49 A460.80,460.80 0 0 1 1058.90,1010.97" fill="none" stroke="#000" stroke-width="1.82" stroke-dasharray="2.90 2.14"/><path d="M1058.90,1010.97 A460.80,460.80 0 0 1 1025.00,1032.56" fill="none" stroke="#000" stroke-width="1.94" stroke-dasharray="2.73 2.02"/><path d="M1025.00,1032.56 A460.80,460.80 0 0 1 989.34,1051.13" fill="none" stroke="#000" stroke-width="2.04" stroke-dasharray="2.59 1.92"/><path d="M989.34,1051.13 A460.80,460.80 0 0 1 952.20,1066.51" fill="none" stroke="#000" stroke-width="2.12" stroke-dasharray="2.49 1.84"/><path d="M952.20,1066.51 A460.80,460.80 0 0 1 913.86,1078.60" fill="none" stroke="#000" stroke-width="2.19" stroke-dasharray="2.41 1.78"/><path d="M913.86,1078.60 A460.80,460.80 0 0 1 874.62,1087.30" fill="none" stroke="#000" stroke-width="2.25" stroke-dasharray="2.36 1.74"/><path d="M874.62,1087.30 A460.80,460.80 0 0 1 834.76,1092.55" fill="none" stroke="#000" stroke-width="2.28" stroke-dasharray="2.32 1.71"/><path d="M834.76,1092.55 A460.80,460.80 0 0 1 794.60,1094.30" fill="none" stroke="#000" stroke-width="2.30" stroke-dasharray="2.30 1.70"/><path d="M794.60,1094.30 A460.80,460.80 0 0 1 754.44,1092.55" fill="none" stroke="#000" stroke-width="2.30" stroke-dasharray="2.30 1.70"/><path d="M754.44,1092.55 A460.80,460.80 0 0 1 714.58,1087.30" fill="none" stroke="#000" stroke-width="2.28" stroke-dasharray="2.32 1.71"/><path d="M714.58,1087.30 A460.80,460.80 0 0 1 675.34,1078.60" fill="none" stroke="#000" stroke-width="2.25" stroke-dasharray="2.36 1.74"/><path d="M675.34,1078.60 A460.80,460.80 0 0 1 637.00,1066.51" fill="none" stroke="#000" stroke-width="2.19" stroke-dasharray="2.41 1.78"/><path d="M637.00,1066.51 A460.80,460.80 0 0 1 599.86,1051.13" fill="none" stroke="#000" stroke-width="2.12" stroke-dasharray="2.49 1.84"/><path d="M599.86,1051.13 A460.80,460.80 0 0 1 564.20,1032.56" fill="none" stroke="#000" stroke-width="2.04" stroke-dasharray="2.59 1.92"/><path d="M564.20,1032.56 A460.80,460.80 0 0 1 530.30,1010.97" fill="none" stroke="#000" stroke-width="1.94" stroke-dasharray="2.73 2.02"/><path d="M530.30,1010.97 A460.80,460.80 0 0 1 498.40,986.49" fill="none" stroke="#000" stroke-width="1.82" stroke-dasharray="2.90 2.14"/><path d="M498.40,986.49 A460.80,460.80 0 0 1 468.77,959.33" fill="none" stroke="#000" stroke-width="1.70" stroke-dasharray="3.12 2.31"/><path d="M468.77,959.33 A460.80,460.80 0 0 1 441.61,929.70" fill="none" stroke="#000" stroke-width="1.70" stroke-dasharray="3.12 2.31"/><path d="M441.61,929.70 A460.80,460.80 0 0 1 417.13,897.80" fill="none" stroke="#000" stroke-width="1.82" stroke-dasharray="2.90 2.14"/><path d="M417.13,897.80 A460.80,460.80 0 0 1 395.54,863.90" fill="none" stroke="#000" stroke-width="1.94" stroke-dasharray="2.73 2.02"/><path d="M395.54,863.90 A460.80,460.80 0 0 1 376.97,828.24" fill="none" stroke="#000" stroke-width="2.04" stroke-dasharray="2.59 1.92"/><path d="M376.97,828.24 A460.80,460.80 0 0 1 361.59,791.10" fill="none" stroke="#000" stroke-width="2.12" stroke-dasharray="2.49 1.84"/><path d="M361.59,791.10 A460.80,460.80 0 0 1 349.50,752.76" fill="none" stroke="#000" stroke-width="2.19" stroke-dasharray="2.41 1.78"/><path d="M349.50,752.76 A460.80,460.80 0 0 1 340.80,713.52" fill="none" stroke="#000" stroke-width="2.25" stroke-dasharray="2.36 1.74"/><path d="M340.80,713.52 A460.80,460.80 0 0 1 335.55,673.66" fill="none" stroke="#000" stroke-width="2.28" stroke-dasharray="2.32 1.71"/><path d="M335.55,673.66 A460.80,460.80 0 0 1 333.80,633.50" fill="none" stroke="#000" stroke-width="2.30" stroke-dasharray="2.30 1.70"/><path d="M333.80,633.50 A460.80,460.80 0 0 1 335.55,593.34" fill="none" stroke="#000" stroke-width="2.30" stroke-dasharray="2.30 1.70"/><path d="M335.55,593.34 A460.80,460.80 0 0 1 340.80,553.48" fill="none" stroke="#000" stroke-width="2.28" stroke-dasharray="2.32 1.71"/><path d="M340.80,553.48 A460.80,460.80 0 0 1 349.50,514.24" fill="none" stroke="#000" stroke-width="2.25" stroke-dasharray="2.36 1.74"/><path d="M349.50,514.24 A460.80,460.80 0 0 1 361.59,475.90" fill="none" stroke="#000" stroke-width="2.19" stroke-dasharray="2.41 1.78"/><path d="M361.59,475.90 A460.80,460.80 0 0 1 376.97,438.76" fill="none" stroke="#000" stroke-width="2.12" stroke-dasharray="2.49 1.84"/><path d="M376.97,438.76 A460.80,460.80 0 0 1 395.54,403.10" fill="none" stroke="#000" stroke-width="2.04" stroke-dasharray="2.59 1.92"/><path d="M395.54,403.10 A460.80,460.80 0 0 1 417.13,369.20" fill="none" stroke="#000" stroke-width="1.94" stroke-dasharray="2.73 2.02"/><path d="M417.13,369.20 A460.80,460.80 0 0 1 441.61,337.30" fill="none" stroke="#000" stroke-width="1.82" stroke-dasharray="2.90 2.14"/><path d="M441.61,337.30 A460.80,460.80 0 0 1 468.77,307.67" fill="none" stroke="#000" stroke-width="1.70" stroke-dasharray="3.12 2.31"/><path d="M468.77,307.67 A460.80,460.80 0 0 1 498.40,280.51" fill="none" stroke="#000" stroke-width="1.70" stroke-dasharray="3.12 2.31"/><path d="M498.40,280.51 A460.80,460.80 0 0 1 530.30,256.03" fill="none" stroke="#000" stroke-width="1.82" stroke-dasharray="2.90 2.14"/><path d="M530.30,256.03 A460.80,460.80 0 0 1 564.20,234.44" fill="none" stroke="#000" stroke-width="1.94" stroke-dasharray="2.73 2.02"/><path d="M564.20,234.44 A460.80,460.80 0 0 1 599.86,215.87" fill="none" stroke="#000" stroke-width="2.04" stroke-dasharray="2.59 1.92"/><path d="M599.86,215.87 A460.80,460.80 0 0 1 637.00,200.49" fill="none" stroke="#000" stroke-width="2.12" stroke-dasharray="2.49 1.84"/><path d="M637.00,200.49 A460.80,460.80 0 0 1 675.34,188.40" fill="none" stroke="#000" stroke-width="2.19" stroke-dasharray="2.41 1.78"/><path d="M675.34,188.40 A460.80,460.80 0 0 1 714.58,179.70" fill="none" stroke="#000" stroke-width="2.25" stroke-dasharray="2.36 1.74"/><path d="M714.58,179.70 A460.80,460.80 0 0 1 754.44,174.45" fill="none" stroke="#000" stroke-width="2.28" stroke-dasharray="2.32 1.71"/><path d="M754.44,174.45 A460.80,460.80 0 0 1 794.60,172.70" fill="none" stroke="#000" stroke-width="2.30" stroke-dasharray="2.30 1.70"/><line x1="794.6" y1="172.70" x2="794.6" y2="1094.30" stroke="#000" stroke-width="2.4" stroke-dasharray="2.6 1.4"/><line x1="333.80" y1="633.5" x2="1255.40" y2="633.5" stroke="#000" stroke-width="2.4" stroke-dasharray="2.6 1.4"/>
<g stroke="#000" stroke-width="2.2" stroke-linejoin="miter"><path d="M793.38,619.55 L791.49,597.94 A35.70,35.70 0 0 1 797.71,597.94 L795.82,619.55 A14.00,14.00 0 0 0 793.38,619.55 Z" fill="#000080"/><path d="M791.49,597.94 L791.22,594.85 A38.80,38.80 0 0 1 797.98,594.85 L797.71,597.94 A35.70,35.70 0 0 0 791.49,597.94 Z" fill="#0000FF"/><path d="M791.22,594.85 L789.91,579.90 A53.80,53.80 0 0 1 799.29,579.90 L797.98,594.85 A38.80,38.80 0 0 0 791.22,594.85 Z" fill="#0080FF"/><path d="M789.91,579.90 L789.21,571.94 A61.80,61.80 0 0 1 799.99,571.94 L799.29,579.90 A53.80,53.80 0 0 0 789.91,579.90 Z" fill="#00FFFF"/><path d="M795.82,619.55 L796.78,608.60 A25.00,25.00 0 0 1 801.07,609.35 L798.22,619.98 A14.00,14.00 0 0 0 795.82,619.55 Z" fill="#000080"/><path d="M796.78,608.60 L796.98,606.30 A27.30,27.30 0 0 1 801.67,607.13 L801.07,609.35 A25.00,25.00 0 0 0 796.78,608.60 Z" fill="#0000FF"/><path d="M796.98,606.30 L797.60,599.23 A34.40,34.40 0 0 1 803.50,600.27 L801.67,607.13 A27.30,27.30 0 0 0 796.98,606.30 Z" fill="#0080FF"/><path d="M798.22,619.98 L801.07,609.35 A25.00,25.00 0 0 1 805.17,610.84 L800.52,620.81 A14.00,14.00 0 0 0 798.22,619.98 Z" fill="#000080"/><path d="M801.07,609.35 L801.92,606.16 A28.30,28.30 0 0 1 806.56,607.85 L805.17,610.84 A25.00,25.00 0 0 0 801.07,609.35 Z" fill="#0000FF"/><path d="M801.92,606.16 L803.66,599.69 A35.00,35.00 0 0 1 809.39,601.78 L806.56,607.85 A28.30,28.30 0 0 0 801.92,606.16 Z" fill="#0080FF"/><path d="M803.66,599.69 L804.88,595.15 A39.70,39.70 0 0 1 811.38,597.52 L809.39,601.78 A35.00,35.00 0 0 0 803.66,599.69 Z" fill="#00FFFF"/><path d="M800.52,620.81 L807.28,606.31 A30.00,30.00 0 0 1 811.81,608.93 L802.63,622.03 A14.00,14.00 0 0 0 800.52,620.81 Z" fill="#000080"/><path d="M807.28,606.31 L809.39,601.78 A35.00,35.00 0 0 1 814.68,604.83 L811.81,608.93 A30.00,30.00 0 0 0 807.28,606.31 Z" fill="#0000FF"/><path d="M809.39,601.78 L812.18,595.80 A41.60,41.60 0 0 1 818.46,599.42 L814.68,604.83 A35.00,35.00 0 0 0 809.39,601.78 Z" fill="#0080FF"/><path d="M812.18,595.80 L815.90,587.82 A50.40,50.40 0 0 1 823.51,592.21 L818.46,599.42 A41.60,41.60 0 0 0 812.18,595.80 Z" fill="#00FFFF"/><path d="M802.63,622.03 L822.13,594.18 A48.00,48.00 0 0 1 828.54,599.56 L804.50,623.60 A14.00,14.00 0 0 0 802.63,622.03 Z" fill="#000080"/><path d="M822.13,594.18 L830.62,582.06 A62.80,62.80 0 0 1 839.01,589.09 L828.54,599.56 A48.00,48.00 0 0 0 822.13,594.18 Z" fill="#0000FF"/><path d="M804.50,623.60 L816.94,611.16 A31.60,31.60 0 0 1 820.49,615.37 L806.07,625.47 A14.00,14.00 0 0 0 804.50,623.60 Z" fill="#000080"/><path d="M816.94,611.16 L821.33,606.77 A37.80,37.80 0 0 1 825.56,611.82 L820.49,615.37 A31.60,31.60 0 0 0 816.94,611.16 Z" fill="#0000FF"/><path d="M821.33,606.77 L826.21,601.89 A44.70,44.70 0 0 1 831.22,607.86 L825.56,611.82 A37.80,37.80 0 0 0 821.33,606.77 Z" fill="#0080FF"/><path d="M826.21,601.89 L832.22,595.88 A53.20,53.20 0 0 1 838.18,602.99 L831.22,607.86 A44.70,44.70 0 0 0 826.21,601.89 Z" fill="#00FFFF"/><path d="M806.07,625.47 L827.37,610.56 A40.00,40.00 0 0 1 830.85,616.60 L807.29,627.58 A14.00,14.00 0 0 0 806.07,625.47 Z" fill="#000080"/><path d="M827.37,610.56 L858.90,588.47 A78.50,78.50 0 0 1 865.75,600.32 L830.85,616.60 A40.00,40.00 0 0 0 827.37,610.56 Z" fill="#0000FF"/><path d="M858.90,588.47 L863.98,584.92 A84.70,84.70 0 0 1 871.36,597.70 L865.75,600.32 A78.50,78.50 0 0 0 858.90,588.47 Z" fill="#0080FF"/><path d="M863.98,584.92 L889.62,566.97 A116.00,116.00 0 0 1 899.73,584.48 L871.36,597.70 A84.70,84.70 0 0 0 863.98,584.92 Z" fill="#00FFFF"/><path d="M889.62,566.97 L896.17,562.38 A124.00,124.00 0 0 1 906.98,581.10 L899.73,584.48 A116.00,116.00 0 0 0 889.62,566.97 Z" fill="#80FF80"/><path d="M807.29,627.58 L824.51,619.55 A33.00,33.00 0 0 1 826.48,624.96 L808.12,629.88 A14.00,14.00 0 0 0 807.29,627.58 Z" fill="#000080"/><path d="M824.51,619.55 L850.43,607.47 A61.60,61.60 0 0 1 854.10,617.56 L826.48,624.96 A33.00,33.00 0 0 0 824.51,619.55 Z" fill="#0000FF"/><path d="M850.43,607.47 L874.72,596.14 A88.40,88.40 0 0 1 879.99,610.62 L854.10,617.56 A61.60,61.60 0 0 0 850.43,607.47 Z" fill="#0080FF"/><path d="M874.72,596.14 L902.45,583.21 A119.00,119.00 0 0 1 909.55,602.70 L879.99,610.62 A88.40,88.40 0 0 0 874.72,596.14 Z" fill="#00FFFF"/><path d="M902.45,583.21 L909.25,580.04 A126.50,126.50 0 0 1 916.79,600.76 L909.55,602.70 A119.00,119.00 0 0 0 902.45,583.21 Z" fill="#80FF80"/><path d="M909.25,580.04 L913.33,578.14 A131.00,131.00 0 0 1 921.14,599.59 L916.79,600.76 A126.50,126.50 0 0 0 909.25,580.04 Z" fill="#FF8000"/><path d="M808.12,629.88 L835.75,622.47 A42.60,42.60 0 0 1 837.04,629.79 L808.55,632.28 A14.00,14.00 0 0 0 808.12,629.88 Z" fill="#000080"/><path d="M835.75,622.47 L872.36,612.67 A80.50,80.50 0 0 1 874.79,626.48 L837.04,629.79 A42.60,42.60 0 0 0 835.75,622.47 Z" fill="#0000FF"/><path d="M872.36,612.67 L905.39,603.81 A114.70,114.70 0 0 1 908.86,623.50 L874.79,626.48 A80.50,80.50 0 0 0 872.36,612.67 Z" fill="#0080FF"/><path d="M905.39,603.81 L928.86,597.52 A139.00,139.00 0 0 1 933.07,621.39 L908.86,623.50 A114.70,114.70 0 0 0 905.39,603.81 Z" fill="#00FFFF"/><path d="M928.86,597.52 L932.24,596.62 A142.50,142.50 0 0 1 936.56,621.08 L933.07,621.39 A139.00,139.00 0 0 0 928.86,597.52 Z" fill="#80FF80"/><path d="M808.55,632.28 L878.78,626.14 A84.50,84.50 0 0 1 878.78,640.86 L808.55,634.72 A14.00,14.00 0 0 0 808.55,632.28 Z" fill="#000080"/><path d="M878.78,626.14 L901.89,624.11 A107.70,107.70 0 0 1 901.89,642.89 L878.78,640.86 A84.50,84.50 0 0 0 878.78,626.14 Z" fill="#0000FF"/><path d="M901.89,624.11 L921.02,622.44 A126.90,126.90 0 0 1 921.02,644.56 L901.89,642.89 A107.70,107.70 0 0 0 901.89,624.11 Z" fill="#0080FF"/><path d="M921.02,622.44 L929.09,621.73 A135.00,135.00 0 0 1 929.09,645.27 L921.02,644.56 A126.90,126.90 0 0 0 921.02,622.44 Z" fill="#00FFFF"/><path d="M929.09,621.73 L936.56,621.08 A142.50,142.50 0 0 1 936.56,645.92 L929.09,645.27 A135.00,135.00 0 0 0 929.09,621.73 Z" fill="#80FF80"/><path d="M808.55,634.72 L871.31,640.21 A77.00,77.00 0 0 1 868.98,653.43 L808.12,637.12 A14.00,14.00 0 0 0 808.55,634.72 Z" fill="#000080"/><path d="M871.31,640.21 L926.10,645.00 A132.00,132.00 0 0 1 922.10,667.66 L868.98,653.43 A77.00,77.00 0 0 0 871.31,640.21 Z" fill="#0000FF"/><path d="M926.10,645.00 L986.87,650.32 A193.00,193.00 0 0 1 981.02,683.45 L922.10,667.66 A132.00,132.00 0 0 0 926.10,645.00 Z" fill="#0080FF"/><path d="M986.87,650.32 L1012.77,652.59 A219.00,219.00 0 0 1 1006.14,690.18 L981.02,683.45 A193.00,193.00 0 0 0 986.87,650.32 Z" fill="#00FFFF"/><path d="M1012.77,652.59 L1015.76,652.85 A222.00,222.00 0 0 1 1009.04,690.96 L1006.14,690.18 A219.00,219.00 0 0 0 1012.77,652.59 Z" fill="#80FF80"/><path d="M1015.76,652.85 L1020.24,653.24 A226.50,226.50 0 0 1 1013.38,692.12 L1009.04,690.96 A222.00,222.00 0 0 0 1015.76,652.85 Z" fill="#FF8000"/><path d="M808.12,637.12 L866.08,652.65 A74.00,74.00 0 0 1 861.67,664.77 L807.29,639.42 A14.00,14.00 0 0 0 808.12,637.12 Z" fill="#000080"/><path d="M866.08,652.65 L897.95,661.19 A107.00,107.00 0 0 1 891.57,678.72 L861.67,664.77 A74.00,74.00 0 0 0 866.08,652.65 Z" fill="#0000FF"/><path d="M897.95,661.19 L962.67,678.53 A174.00,174.00 0 0 1 952.30,707.04 L891.57,678.72 A107.00,107.00 0 0 0 897.95,661.19 Z" fill="#0080FF"/><path d="M962.67,678.53 L1003.24,689.40 A216.00,216.00 0 0 1 990.36,724.79 L952.30,707.04 A174.00,174.00 0 0 0 962.67,678.53 Z" fill="#00FFFF"/><path d="M1003.24,689.40 L1033.18,697.43 A247.00,247.00 0 0 1 1018.46,737.89 L990.36,724.79 A216.00,216.00 0 0 0 1003.24,689.40 Z" fill="#80FF80"/><path d="M1033.18,697.43 L1036.08,698.20 A250.00,250.00 0 0 1 1021.18,739.15 L1018.46,737.89 A247.00,247.00 0 0 0 1033.18,697.43 Z" fill="#FFFF00"/><path d="M1036.08,698.20 L1044.29,700.40 A258.50,258.50 0 0 1 1028.88,742.75 L1021.18,739.15 A250.00,250.00 0 0 0 1036.08,698.20 Z" fill="#FF8000"/><path d="M807.29,639.42 L826.32,648.29 A35.00,35.00 0 0 1 823.27,653.58 L806.07,641.53 A14.00,14.00 0 0 0 807.29,639.42 Z" fill="#000080"/><path d="M826.32,648.29 L884.32,675.34 A99.00,99.00 0 0 1 875.70,690.28 L823.27,653.58 A35.00,35.00 0 0 0 826.32,648.29 Z" fill="#0000FF"/><path d="M884.32,675.34 L931.18,697.19 A150.70,150.70 0 0 1 918.05,719.94 L875.70,690.28 A99.00,99.00 0 0 0 884.32,675.34 Z" fill="#0080FF"/><path d="M931.18,697.19 L983.11,721.40 A208.00,208.00 0 0 1 964.98,752.80 L918.05,719.94 A150.70,150.70 0 0 0 931.18,697.19 Z" fill="#00FFFF"/><path d="M983.11,721.40 L996.71,727.74 A223.00,223.00 0 0 1 977.27,761.41 L964.98,752.80 A208.00,208.00 0 0 0 983.11,721.40 Z" fill="#80FF80"/><path d="M996.71,727.74 L1025.07,740.97 A254.30,254.30 0 0 1 1002.91,779.36 L977.27,761.41 A223.00,223.00 0 0 0 996.71,727.74 Z" fill="#FFFF00"/><path d="M1025.07,740.97 L1035.95,746.04 A266.30,266.30 0 0 1 1012.74,786.24 L1002.91,779.36 A254.30,254.30 0 0 0 1025.07,740.97 Z" fill="#FF8000"/><path d="M806.07,641.53 L831.46,659.31 A45.00,45.00 0 0 1 826.42,665.32 L804.50,643.40 A14.00,14.00 0 0 0 806.07,641.53 Z" fill="#000080"/><path d="M831.46,659.31 L865.05,682.83 A86.00,86.00 0 0 1 855.41,694.31 L826.42,665.32 A45.00,45.00 0 0 0 831.46,659.31 Z" fill="#0000FF"/><path d="M865.05,682.83 L895.36,704.05 A123.00,123.00 0 0 1 881.57,720.47 L855.41,694.31 A86.00,86.00 0 0 0 865.05,682.83 Z" fill="#0080FF"/><path d="M895.36,704.05 L930.09,728.37 A165.40,165.40 0 0 1 911.56,750.46 L881.57,720.47 A123.00,123.00 0 0 0 895.36,704.05 Z" fill="#00FFFF"/><path d="M930.09,728.37 L971.37,757.28 A215.80,215.80 0 0 1 947.19,786.09 L911.56,750.46 A165.40,165.40 0 0 0 930.09,728.37 Z" fill="#80FF80"/><path d="M971.37,757.28 L996.52,774.89 A246.50,246.50 0 0 1 968.90,807.80 L947.19,786.09 A215.80,215.80 0 0 0 971.37,757.28 Z" fill="#FFFF00"/><path d="M996.52,774.89 L1014.95,787.79 A269.00,269.00 0 0 1 984.81,823.71 L968.90,807.80 A246.50,246.50 0 0 0 996.52,774.89 Z" fill="#FF8000"/><path d="M1014.95,787.79 L1021.67,792.50 A277.20,277.20 0 0 1 990.61,829.51 L984.81,823.71 A269.00,269.00 0 0 0 1014.95,787.79 Z" fill="#FF0000"/><path d="M804.50,643.40 L817.93,656.83 A33.00,33.00 0 0 1 813.53,660.53 L802.63,644.97 A14.00,14.00 0 0 0 804.50,643.40 Z" fill="#000080"/><path d="M817.93,656.83 L829.25,668.15 A49.00,49.00 0 0 1 822.71,673.64 L813.53,660.53 A33.00,33.00 0 0 0 817.93,656.83 Z" fill="#0000FF"/><path d="M829.25,668.15 L849.75,688.65 A78.00,78.00 0 0 1 839.34,697.39 L822.71,673.64 A49.00,49.00 0 0 0 829.25,668.15 Z" fill="#0080FF"/><path d="M849.75,688.65 L870.97,709.87 A108.00,108.00 0 0 1 856.55,721.97 L839.34,697.39 A78.00,78.00 0 0 0 849.75,688.65 Z" fill="#00FFFF"/><path d="M870.97,709.87 L883.84,722.74 A126.20,126.20 0 0 1 866.99,736.88 L856.55,721.97 A108.00,108.00 0 0 0 870.97,709.87 Z" fill="#80FF80"/><path d="M883.84,722.74 L895.01,733.91 A142.00,142.00 0 0 1 876.05,749.82 L866.99,736.88 A126.20,126.20 0 0 0 883.84,722.74 Z" fill="#FFFF00"/><path d="M895.01,733.91 L916.93,755.83 A173.00,173.00 0 0 1 893.83,775.21 L876.05,749.82 A142.00,142.00 0 0 0 895.01,733.91 Z" fill="#FF8000"/><path d="M916.93,755.83 L933.90,772.80 A197.00,197.00 0 0 1 907.59,794.87 L893.83,775.21 A173.00,173.00 0 0 0 916.93,755.83 Z" fill="#FF0000"/><path d="M933.90,772.80 L936.02,774.92 A200.00,200.00 0 0 1 909.32,797.33 L907.59,794.87 A197.00,197.00 0 0 0 933.90,772.80 Z" fill="#800000"/><path d="M802.63,644.97 L811.23,657.26 A29.00,29.00 0 0 1 806.86,659.78 L800.52,646.19 A14.00,14.00 0 0 0 802.63,644.97 Z" fill="#000080"/><path d="M811.23,657.26 L813.53,660.53 A33.00,33.00 0 0 1 808.55,663.41 L806.86,659.78 A29.00,29.00 0 0 0 811.23,657.26 Z" fill="#0000FF"/><path d="M813.53,660.53 L816.57,664.87 A38.30,38.30 0 0 1 810.79,668.21 L808.55,663.41 A33.00,33.00 0 0 0 813.53,660.53 Z" fill="#0080FF"/><path d="M816.57,664.87 L833.83,689.53 A68.40,68.40 0 0 1 823.51,695.49 L810.79,668.21 A38.30,38.30 0 0 0 816.57,664.87 Z" fill="#00FFFF"/><path d="M833.83,689.53 L846.28,707.31 A90.10,90.10 0 0 1 832.68,715.16 L823.51,695.49 A68.40,68.40 0 0 0 833.83,689.53 Z" fill="#80FF80"/><path d="M846.28,707.31 L871.75,743.68 A134.50,134.50 0 0 1 851.44,755.40 L832.68,715.16 A90.10,90.10 0 0 0 846.28,707.31 Z" fill="#FFFF00"/><path d="M871.75,743.68 L874.90,748.18 A140.00,140.00 0 0 1 853.77,760.38 L851.44,755.40 A134.50,134.50 0 0 0 871.75,743.68 Z" fill="#FF8000"/><path d="M874.90,748.18 L877.77,752.28 A145.00,145.00 0 0 1 855.88,764.91 L853.77,760.38 A140.00,140.00 0 0 0 874.90,748.18 Z" fill="#FF0000"/><path d="M877.77,752.28 L882.76,759.40 A153.70,153.70 0 0 1 859.56,772.80 L855.88,764.91 A145.00,145.00 0 0 0 877.77,752.28 Z" fill="#800000"/><path d="M800.52,646.19 L803.35,652.26 A20.70,20.70 0 0 1 799.96,653.49 L798.22,647.02 A14.00,14.00 0 0 0 800.52,646.19 Z" fill="#000080"/><path d="M803.35,652.26 L808.97,664.31 A34.00,34.00 0 0 1 803.40,666.34 L799.96,653.49 A20.70,20.70 0 0 0 803.35,652.26 Z" fill="#0000FF"/><path d="M808.97,664.31 L810.45,667.49 A37.50,37.50 0 0 1 804.31,669.72 L803.40,666.34 A34.00,34.00 0 0 0 808.97,664.31 Z" fill="#0080FF"/><path d="M810.45,667.49 L812.31,671.47 A41.90,41.90 0 0 1 805.44,673.97 L804.31,669.72 A37.50,37.50 0 0 0 810.45,667.49 Z" fill="#00FFFF"/><path d="M812.31,671.47 L820.13,688.24 A60.40,60.40 0 0 1 810.23,691.84 L805.44,673.97 A41.90,41.90 0 0 0 812.31,671.47 Z" fill="#80FF80"/><path d="M820.13,688.24 L823.68,695.85 A68.80,68.80 0 0 1 812.41,699.96 L810.23,691.84 A60.40,60.40 0 0 0 820.13,688.24 Z" fill="#FFFF00"/><path d="M823.68,695.85 L825.49,699.75 A73.10,73.10 0 0 1 813.52,704.11 L812.41,699.96 A68.80,68.80 0 0 0 823.68,695.85 Z" fill="#FF8000"/><path d="M825.49,699.75 L827.69,704.46 A78.30,78.30 0 0 1 814.87,709.13 L813.52,704.11 A73.10,73.10 0 0 0 825.49,699.75 Z" fill="#FF0000"/><path d="M798.22,647.02 L799.91,653.30 A20.50,20.50 0 0 1 796.39,653.92 L795.82,647.45 A14.00,14.00 0 0 0 798.22,647.02 Z" fill="#000080"/><path d="M799.91,653.30 L800.58,655.81 A23.10,23.10 0 0 1 796.61,656.51 L796.39,653.92 A20.50,20.50 0 0 0 799.91,653.30 Z" fill="#0000FF"/><path d="M800.58,655.81 L803.43,666.44 A34.10,34.10 0 0 1 797.57,667.47 L796.61,656.51 A23.10,23.10 0 0 0 800.58,655.81 Z" fill="#00FFFF"/><path d="M803.43,666.44 L804.49,670.40 A38.20,38.20 0 0 1 797.93,671.55 L797.57,667.47 A34.10,34.10 0 0 0 803.43,666.44 Z" fill="#80FF80"/><path d="M804.49,670.40 L806.48,677.84 A45.90,45.90 0 0 1 798.60,679.23 L797.93,671.55 A38.20,38.20 0 0 0 804.49,670.40 Z" fill="#FFFF00"/><path d="M806.48,677.84 L809.22,688.07 A56.50,56.50 0 0 1 799.52,689.79 L798.60,679.23 A45.90,45.90 0 0 0 806.48,677.84 Z" fill="#FF8000"/><path d="M809.22,688.07 L810.65,693.39 A62.00,62.00 0 0 1 800.00,695.26 L799.52,689.79 A56.50,56.50 0 0 0 809.22,688.07 Z" fill="#FF0000"/><path d="M795.82,647.45 L796.60,656.41 A23.00,23.00 0 0 1 792.60,656.41 L793.38,647.45 A14.00,14.00 0 0 0 795.82,647.45 Z" fill="#000080"/><path d="M796.60,656.41 L797.65,668.37 A35.00,35.00 0 0 1 791.55,668.37 L792.60,656.41 A23.00,23.00 0 0 0 796.60,656.41 Z" fill="#0000FF"/><path d="M797.65,668.37 L799.26,686.80 A53.50,53.50 0 0 1 789.94,686.80 L791.55,668.37 A35.00,35.00 0 0 0 797.65,668.37 Z" fill="#0080FF"/><path d="M799.26,686.80 L799.63,690.98 A57.70,57.70 0 0 1 789.57,690.98 L789.94,686.80 A53.50,53.50 0 0 0 799.26,686.80 Z" fill="#80FF80"/><path d="M799.63,690.98 L799.99,695.16 A61.90,61.90 0 0 1 789.21,695.16 L789.57,690.98 A57.70,57.70 0 0 0 799.63,690.98 Z" fill="#FFFF00"/><path d="M799.99,695.16 L800.31,698.75 A65.50,65.50 0 0 1 788.89,698.75 L789.21,695.16 A61.90,61.90 0 0 0 799.99,695.16 Z" fill="#FF8000"/><path d="M793.38,647.45 L792.42,658.40 A25.00,25.00 0 0 1 788.13,657.65 L790.98,647.02 A14.00,14.00 0 0 0 793.38,647.45 Z" fill="#000080"/><path d="M792.42,658.40 L792.25,660.40 A27.00,27.00 0 0 1 787.61,659.58 L788.13,657.65 A25.00,25.00 0 0 0 792.42,658.40 Z" fill="#0000FF"/><path d="M792.25,660.40 L791.29,671.36 A38.00,38.00 0 0 1 784.76,670.21 L787.61,659.58 A27.00,27.00 0 0 0 792.25,660.40 Z" fill="#0080FF"/><path d="M791.29,671.36 L790.28,682.91 A49.60,49.60 0 0 1 781.76,681.41 L784.76,670.21 A38.00,38.00 0 0 0 791.29,671.36 Z" fill="#00FFFF"/><path d="M790.28,682.91 L789.93,686.90 A53.60,53.60 0 0 1 780.73,685.27 L781.76,681.41 A49.60,49.60 0 0 0 790.28,682.91 Z" fill="#80FF80"/><path d="M789.93,686.90 L789.59,690.78 A57.50,57.50 0 0 1 779.72,689.04 L780.73,685.27 A53.60,53.60 0 0 0 789.93,686.90 Z" fill="#FFFF00"/><path d="M790.98,647.02 L788.13,657.65 A25.00,25.00 0 0 1 784.03,656.16 L788.68,646.19 A14.00,14.00 0 0 0 790.98,647.02 Z" fill="#000080"/><path d="M788.13,657.65 L785.80,666.34 A34.00,34.00 0 0 1 780.23,664.31 L784.03,656.16 A25.00,25.00 0 0 0 788.13,657.65 Z" fill="#0000FF"/><path d="M785.80,666.34 L782.95,676.97 A45.00,45.00 0 0 1 775.58,674.28 L780.23,664.31 A34.00,34.00 0 0 0 785.80,666.34 Z" fill="#0080FF"/><path d="M782.95,676.97 L781.92,680.83 A49.00,49.00 0 0 1 773.89,677.91 L775.58,674.28 A45.00,45.00 0 0 0 782.95,676.97 Z" fill="#00FFFF"/><path d="M781.92,680.83 L780.88,684.69 A53.00,53.00 0 0 1 772.20,681.53 L773.89,677.91 A49.00,49.00 0 0 0 781.92,680.83 Z" fill="#80FF80"/><path d="M780.88,684.69 L779.85,688.56 A57.00,57.00 0 0 1 770.51,685.16 L772.20,681.53 A53.00,53.00 0 0 0 780.88,684.69 Z" fill="#FFFF00"/><path d="M779.85,688.56 L778.55,693.39 A62.00,62.00 0 0 1 768.40,689.69 L770.51,685.16 A57.00,57.00 0 0 0 779.85,688.56 Z" fill="#FF8000"/><path d="M788.68,646.19 L784.88,654.35 A23.00,23.00 0 0 1 781.41,652.34 L786.57,644.97 A14.00,14.00 0 0 0 788.68,646.19 Z" fill="#000080"/><path d="M784.88,654.35 L781.92,660.69 A30.00,30.00 0 0 1 777.39,658.07 L781.41,652.34 A23.00,23.00 0 0 0 784.88,654.35 Z" fill="#0000FF"/><path d="M781.92,660.69 L779.17,666.58 A36.50,36.50 0 0 1 773.66,663.40 L777.39,658.07 A30.00,30.00 0 0 0 781.92,660.69 Z" fill="#0080FF"/><path d="M779.17,666.58 L774.82,675.92 A46.80,46.80 0 0 1 767.76,671.84 L773.66,663.40 A36.50,36.50 0 0 0 779.17,666.58 Z" fill="#00FFFF"/><path d="M774.82,675.92 L770.51,685.16 A57.00,57.00 0 0 1 761.91,680.19 L767.76,671.84 A46.80,46.80 0 0 0 774.82,675.92 Z" fill="#80FF80"/><path d="M770.51,685.16 L768.82,688.78 A61.00,61.00 0 0 1 759.61,683.47 L761.91,680.19 A57.00,57.00 0 0 0 770.51,685.16 Z" fill="#FFFF00"/><path d="M768.82,688.78 L767.34,691.96 A64.50,64.50 0 0 1 757.60,686.34 L759.61,683.47 A61.00,61.00 0 0 0 768.82,688.78 Z" fill="#FF0000"/><path d="M767.34,691.96 L765.99,694.86 A67.70,67.70 0 0 1 755.77,688.96 L757.60,686.34 A64.50,64.50 0 0 0 767.34,691.96 Z" fill="#800000"/><path d="M786.57,644.97 L780.26,653.98 A25.00,25.00 0 0 1 776.92,651.18 L784.70,643.40 A14.00,14.00 0 0 0 786.57,644.97 Z" fill="#000080"/><path d="M780.26,653.98 L778.54,656.44 A28.00,28.00 0 0 1 774.80,653.30 L776.92,651.18 A25.00,25.00 0 0 0 780.26,653.98 Z" fill="#0000FF"/><path d="M778.54,656.44 L777.39,658.07 A30.00,30.00 0 0 1 773.39,654.71 L774.80,653.30 A28.00,28.00 0 0 0 778.54,656.44 Z" fill="#00FFFF"/><path d="M777.39,658.07 L773.38,663.81 A37.00,37.00 0 0 1 768.44,659.66 L773.39,654.71 A30.00,30.00 0 0 0 777.39,658.07 Z" fill="#80FF80"/><path d="M773.38,663.81 L770.51,667.90 A42.00,42.00 0 0 1 764.90,663.20 L768.44,659.66 A37.00,37.00 0 0 0 773.38,663.81 Z" fill="#FF8000"/><path d="M784.70,643.40 L773.39,654.71 A30.00,30.00 0 0 1 770.03,650.71 L783.13,641.53 A14.00,14.00 0 0 0 784.70,643.40 Z" fill="#000080"/><path d="M773.39,654.71 L766.32,661.78 A40.00,40.00 0 0 1 761.83,656.44 L770.03,650.71 A30.00,30.00 0 0 0 773.39,654.71 Z" fill="#0000FF"/><path d="M766.32,661.78 L758.96,669.14 A50.40,50.40 0 0 1 753.31,662.41 L761.83,656.44 A40.00,40.00 0 0 0 766.32,661.78 Z" fill="#0080FF"/><path d="M758.96,669.14 L742.70,685.40 A73.40,73.40 0 0 1 734.47,675.60 L753.31,662.41 A50.40,50.40 0 0 0 758.96,669.14 Z" fill="#00FFFF"/><path d="M742.70,685.40 L726.72,701.38 A96.00,96.00 0 0 1 715.96,688.56 L734.47,675.60 A73.40,73.40 0 0 0 742.70,685.40 Z" fill="#80FF80"/><path d="M726.72,701.38 L721.63,706.47 A103.20,103.20 0 0 1 710.06,692.69 L715.96,688.56 A96.00,96.00 0 0 0 726.72,701.38 Z" fill="#FFFF00"/><path d="M783.13,641.53 L770.03,650.71 A30.00,30.00 0 0 1 767.41,646.18 L781.91,639.42 A14.00,14.00 0 0 0 783.13,641.53 Z" fill="#000080"/><path d="M770.03,650.71 L756.92,659.88 A46.00,46.00 0 0 1 752.91,652.94 L767.41,646.18 A30.00,30.00 0 0 0 770.03,650.71 Z" fill="#0000FF"/><path d="M756.92,659.88 L740.54,671.36 A66.00,66.00 0 0 1 734.78,661.39 L752.91,652.94 A46.00,46.00 0 0 0 756.92,659.88 Z" fill="#0080FF"/><path d="M740.54,671.36 L722.27,684.15 A88.30,88.30 0 0 1 714.57,670.82 L734.78,661.39 A66.00,66.00 0 0 0 740.54,671.36 Z" fill="#00FFFF"/><path d="M722.27,684.15 L690.57,706.34 A127.00,127.00 0 0 1 679.50,687.17 L714.57,670.82 A88.30,88.30 0 0 0 722.27,684.15 Z" fill="#80FF80"/><path d="M690.57,706.34 L675.33,717.01 A145.60,145.60 0 0 1 662.64,695.03 L679.50,687.17 A127.00,127.00 0 0 0 690.57,706.34 Z" fill="#FFFF00"/><path d="M675.33,717.01 L666.16,723.44 A156.80,156.80 0 0 1 652.49,699.77 L662.64,695.03 A145.60,145.60 0 0 0 675.33,717.01 Z" fill="#FF8000"/><path d="M781.91,639.42 L767.41,646.18 A30.00,30.00 0 0 1 765.62,641.26 L781.08,637.12 A14.00,14.00 0 0 0 781.91,639.42 Z" fill="#000080"/><path d="M767.41,646.18 L758.35,650.40 A40.00,40.00 0 0 1 755.96,643.85 L765.62,641.26 A30.00,30.00 0 0 0 767.41,646.18 Z" fill="#0000FF"/><path d="M758.35,650.40 L735.69,660.97 A65.00,65.00 0 0 1 731.81,650.32 L755.96,643.85 A40.00,40.00 0 0 0 758.35,650.40 Z" fill="#0080FF"/><path d="M735.69,660.97 L707.69,674.03 A95.90,95.90 0 0 1 701.97,658.32 L731.81,650.32 A65.00,65.00 0 0 0 735.69,660.97 Z" fill="#00FFFF"/><path d="M707.69,674.03 L634.00,708.39 A177.20,177.20 0 0 1 623.44,679.36 L701.97,658.32 A95.90,95.90 0 0 0 707.69,674.03 Z" fill="#80FF80"/><path d="M634.00,708.39 L591.32,728.29 A224.30,224.30 0 0 1 577.94,691.55 L623.44,679.36 A177.20,177.20 0 0 0 634.00,708.39 Z" fill="#FFFF00"/><path d="M591.32,728.29 L581.62,732.82 A235.00,235.00 0 0 1 567.61,694.32 L577.94,691.55 A224.30,224.30 0 0 0 591.32,728.29 Z" fill="#FF8000"/><path d="M581.62,732.82 L578.17,734.42 A238.80,238.80 0 0 1 563.94,695.31 L567.61,694.32 A235.00,235.00 0 0 0 581.62,732.82 Z" fill="#FF0000"/><path d="M781.08,637.12 L765.62,641.26 A30.00,30.00 0 0 1 764.71,636.11 L780.65,634.72 A14.00,14.00 0 0 0 781.08,637.12 Z" fill="#000080"/><path d="M765.62,641.26 L754.03,644.37 A42.00,42.00 0 0 1 752.76,637.16 L764.71,636.11 A30.00,30.00 0 0 0 765.62,641.26 Z" fill="#0000FF"/><path d="M754.03,644.37 L727.95,651.36 A69.00,69.00 0 0 1 725.86,639.51 L752.76,637.16 A42.00,42.00 0 0 0 754.03,644.37 Z" fill="#0080FF"/><path d="M727.95,651.36 L650.68,672.06 A149.00,149.00 0 0 1 646.17,646.49 L725.86,639.51 A69.00,69.00 0 0 0 727.95,651.36 Z" fill="#00FFFF"/><path d="M650.68,672.06 L578.23,691.48 A224.00,224.00 0 0 1 571.45,653.02 L646.17,646.49 A149.00,149.00 0 0 0 650.68,672.06 Z" fill="#80FF80"/><path d="M578.23,691.48 L504.82,711.15 A300.00,300.00 0 0 1 495.74,659.65 L571.45,653.02 A224.00,224.00 0 0 0 578.23,691.48 Z" fill="#FFFF00"/><path d="M504.82,711.15 L459.42,723.31 A347.00,347.00 0 0 1 448.92,663.74 L495.74,659.65 A300.00,300.00 0 0 0 504.82,711.15 Z" fill="#FF8000"/><path d="M780.65,634.72 L755.75,636.90 A39.00,39.00 0 0 1 755.75,630.10 L780.65,632.28 A14.00,14.00 0 0 0 780.65,634.72 Z" fill="#000080"/><path d="M755.75,636.90 L729.35,639.21 A65.50,65.50 0 0 1 729.35,627.79 L755.75,630.10 A39.00,39.00 0 0 0 755.75,636.90 Z" fill="#0000FF"/><path d="M729.35,639.21 L687.01,642.91 A108.00,108.00 0 0 1 687.01,624.09 L729.35,627.79 A65.50,65.50 0 0 0 729.35,639.21 Z" fill="#0080FF"/><path d="M687.01,642.91 L610.50,649.61 A184.80,184.80 0 0 1 610.50,617.39 L687.01,624.09 A108.00,108.00 0 0 0 687.01,642.91 Z" fill="#00FFFF"/><path d="M610.50,649.61 L525.83,657.01 A269.80,269.80 0 0 1 525.83,609.99 L610.50,617.39 A184.80,184.80 0 0 0 610.50,649.61 Z" fill="#80FF80"/><path d="M525.83,657.01 L456.79,663.05 A339.10,339.10 0 0 1 456.79,603.95 L525.83,609.99 A269.80,269.80 0 0 0 525.83,657.01 Z" fill="#FFFF00"/><path d="M456.79,663.05 L414.75,666.73 A381.30,381.30 0 0 1 414.75,600.27 L456.79,603.95 A339.10,339.10 0 0 0 456.79,663.05 Z" fill="#FF8000"/><path d="M414.75,666.73 L411.07,667.05 A385.00,385.00 0 0 1 411.07,599.95 L414.75,600.27 A381.30,381.30 0 0 0 414.75,666.73 Z" fill="#FF0000"/><path d="M780.65,632.28 L754.75,630.01 A40.00,40.00 0 0 1 755.96,623.15 L781.08,629.88 A14.00,14.00 0 0 0 780.65,632.28 Z" fill="#000080"/><path d="M754.75,630.01 L748.38,629.46 A46.40,46.40 0 0 1 749.78,621.49 L755.96,623.15 A40.00,40.00 0 0 0 754.75,630.01 Z" fill="#0000FF"/><path d="M748.38,629.46 L674.56,623.00 A120.50,120.50 0 0 1 678.21,602.31 L749.78,621.49 A46.40,46.40 0 0 0 748.38,629.46 Z" fill="#0080FF"/><path d="M674.56,623.00 L617.28,617.99 A178.00,178.00 0 0 1 622.67,587.43 L678.21,602.31 A120.50,120.50 0 0 0 674.56,623.00 Z" fill="#00FFFF"/><path d="M617.28,617.99 L578.82,614.62 A216.60,216.60 0 0 1 585.38,577.44 L622.67,587.43 A178.00,178.00 0 0 0 617.28,617.99 Z" fill="#80FF80"/><path d="M578.82,614.62 L549.04,612.02 A246.50,246.50 0 0 1 556.50,569.70 L585.38,577.44 A216.60,216.60 0 0 0 578.82,614.62 Z" fill="#FFFF00"/><path d="M549.04,612.02 L541.07,611.32 A254.50,254.50 0 0 1 548.77,567.63 L556.50,569.70 A246.50,246.50 0 0 0 549.04,612.02 Z" fill="#FF8000"/><path d="M781.08,629.88 L751.13,621.85 A45.00,45.00 0 0 1 753.82,614.48 L781.91,627.58 A14.00,14.00 0 0 0 781.08,629.88 Z" fill="#000080"/><path d="M751.13,621.85 L701.87,608.65 A96.00,96.00 0 0 1 707.59,592.93 L753.82,614.48 A45.00,45.00 0 0 0 751.13,621.85 Z" fill="#0000FF"/><path d="M701.87,608.65 L646.33,593.77 A153.50,153.50 0 0 1 655.48,568.63 L707.59,592.93 A96.00,96.00 0 0 0 701.87,608.65 Z" fill="#0080FF"/><path d="M646.33,593.77 L593.01,579.48 A208.70,208.70 0 0 1 605.45,545.30 L655.48,568.63 A153.50,153.50 0 0 0 646.33,593.77 Z" fill="#00FFFF"/><path d="M593.01,579.48 L536.99,564.47 A266.70,266.70 0 0 1 552.89,520.79 L605.45,545.30 A208.70,208.70 0 0 0 593.01,579.48 Z" fill="#80FF80"/><path d="M536.99,564.47 L497.29,553.84 A307.80,307.80 0 0 1 515.64,503.42 L552.89,520.79 A266.70,266.70 0 0 0 536.99,564.47 Z" fill="#FFFF00"/><path d="M497.29,553.84 L492.94,552.67 A312.30,312.30 0 0 1 511.56,501.52 L515.64,503.42 A307.80,307.80 0 0 0 497.29,553.84 Z" fill="#FF8000"/><path d="M781.91,627.58 L757.80,616.34 A40.60,40.60 0 0 1 761.34,610.21 L783.13,625.47 A14.00,14.00 0 0 0 781.91,627.58 Z" fill="#000080"/><path d="M757.80,616.34 L717.84,597.70 A84.70,84.70 0 0 1 725.22,584.92 L761.34,610.21 A40.60,40.60 0 0 0 757.80,616.34 Z" fill="#0000FF"/><path d="M717.84,597.70 L689.65,584.56 A115.80,115.80 0 0 1 699.74,567.08 L725.22,584.92 A84.70,84.70 0 0 0 717.84,597.70 Z" fill="#0080FF"/><path d="M689.65,584.56 L637.08,560.05 A173.80,173.80 0 0 1 652.23,533.81 L699.74,567.08 A115.80,115.80 0 0 0 689.65,584.56 Z" fill="#00FFFF"/><path d="M637.08,560.05 L507.30,499.53 A317.00,317.00 0 0 1 534.93,451.68 L652.23,533.81 A173.80,173.80 0 0 0 637.08,560.05 Z" fill="#80FF80"/><path d="M507.30,499.53 L490.08,491.50 A336.00,336.00 0 0 1 519.36,440.78 L534.93,451.68 A317.00,317.00 0 0 0 507.30,499.53 Z" fill="#FFFF00"/><path d="M783.13,625.47 L742.17,596.79 A64.00,64.00 0 0 1 749.35,588.25 L784.70,623.60 A14.00,14.00 0 0 0 783.13,625.47 Z" fill="#000080"/><path d="M742.17,596.79 L696.30,564.67 A120.00,120.00 0 0 1 709.75,548.65 L749.35,588.25 A64.00,64.00 0 0 0 742.17,596.79 Z" fill="#0000FF"/><path d="M696.30,564.67 L668.45,545.17 A154.00,154.00 0 0 1 685.71,524.61 L709.75,548.65 A120.00,120.00 0 0 0 696.30,564.67 Z" fill="#0080FF"/><path d="M668.45,545.17 L611.11,505.02 A224.00,224.00 0 0 1 636.21,475.11 L685.71,524.61 A154.00,154.00 0 0 0 668.45,545.17 Z" fill="#00FFFF"/><path d="M611.11,505.02 L543.94,457.99 A306.00,306.00 0 0 1 578.23,417.13 L636.21,475.11 A224.00,224.00 0 0 0 611.11,505.02 Z" fill="#80FF80"/><path d="M543.94,457.99 L491.51,421.28 A370.00,370.00 0 0 1 532.97,371.87 L578.23,417.13 A306.00,306.00 0 0 0 543.94,457.99 Z" fill="#FFFF00"/><path d="M491.51,421.28 L488.24,418.98 A374.00,374.00 0 0 1 530.14,369.04 L532.97,371.87 A370.00,370.00 0 0 0 491.51,421.28 Z" fill="#FF8000"/><path d="M784.70,623.60 L750.05,588.95 A63.00,63.00 0 0 1 758.46,581.89 L786.57,622.03 A14.00,14.00 0 0 0 784.70,623.60 Z" fill="#000080"/><path d="M750.05,588.95 L726.01,564.91 A97.00,97.00 0 0 1 738.96,554.04 L758.46,581.89 A63.00,63.00 0 0 0 750.05,588.95 Z" fill="#0000FF"/><path d="M726.01,564.91 L696.31,535.21 A139.00,139.00 0 0 1 714.87,519.64 L738.96,554.04 A97.00,97.00 0 0 0 726.01,564.91 Z" fill="#0080FF"/><path d="M696.31,535.21 L641.86,480.76 A216.00,216.00 0 0 1 670.71,456.56 L714.87,519.64 A139.00,139.00 0 0 0 696.31,535.21 Z" fill="#00FFFF"/><path d="M641.86,480.76 L578.93,417.83 A305.00,305.00 0 0 1 619.66,383.66 L670.71,456.56 A216.00,216.00 0 0 0 641.86,480.76 Z" fill="#80FF80"/><path d="M578.93,417.83 L539.33,378.23 A361.00,361.00 0 0 1 587.54,337.79 L619.66,383.66 A305.00,305.00 0 0 0 578.93,417.83 Z" fill="#FFFF00"/><path d="M539.33,378.23 L535.80,374.70 A366.00,366.00 0 0 1 584.67,333.69 L587.54,337.79 A361.00,361.00 0 0 0 539.33,378.23 Z" fill="#FF8000"/><path d="M786.57,622.03 L769.94,598.28 A43.00,43.00 0 0 1 776.43,594.53 L788.68,620.81 A14.00,14.00 0 0 0 786.57,622.03 Z" fill="#000080"/><path d="M769.94,598.28 L743.55,560.60 A89.00,89.00 0 0 1 756.99,552.84 L776.43,594.53 A43.00,43.00 0 0 0 769.94,598.28 Z" fill="#0000FF"/><path d="M743.55,560.60 L730.93,542.57 A111.00,111.00 0 0 1 747.69,532.90 L756.99,552.84 A89.00,89.00 0 0 0 743.55,560.60 Z" fill="#0080FF"/><path d="M730.93,542.57 L670.71,456.56 A216.00,216.00 0 0 1 703.31,437.74 L747.69,532.90 A111.00,111.00 0 0 0 730.93,542.57 Z" fill="#00FFFF"/><path d="M670.71,456.56 L632.85,402.50 A282.00,282.00 0 0 1 675.42,377.92 L703.31,437.74 A216.00,216.00 0 0 0 670.71,456.56 Z" fill="#80FF80"/><path d="M632.85,402.50 L595.57,349.25 A347.00,347.00 0 0 1 647.95,319.01 L675.42,377.92 A282.00,282.00 0 0 0 632.85,402.50 Z" fill="#FFFF00"/><path d="M788.68,620.81 L778.54,599.06 A38.00,38.00 0 0 1 784.76,596.79 L790.98,619.98 A14.00,14.00 0 0 0 788.68,620.81 Z" fill="#000080"/><path d="M778.54,599.06 L771.78,584.56 A54.00,54.00 0 0 1 780.62,581.34 L784.76,596.79 A38.00,38.00 0 0 0 778.54,599.06 Z" fill="#0000FF"/><path d="M771.78,584.56 L758.89,556.92 A84.50,84.50 0 0 1 772.73,551.88 L780.62,581.34 A54.00,54.00 0 0 0 771.78,584.56 Z" fill="#0080FF"/><path d="M758.89,556.92 L747.27,531.99 A112.00,112.00 0 0 1 765.61,525.32 L772.73,551.88 A84.50,84.50 0 0 0 758.89,556.92 Z" fill="#00FFFF"/><path d="M747.27,531.99 L742.20,521.12 A124.00,124.00 0 0 1 762.51,513.73 L765.61,525.32 A112.00,112.00 0 0 0 747.27,531.99 Z" fill="#80FF80"/><path d="M742.20,521.12 L732.48,500.27 A147.00,147.00 0 0 1 756.55,491.51 L762.51,513.73 A124.00,124.00 0 0 0 742.20,521.12 Z" fill="#FFFF00"/><path d="M790.98,619.98 L785.54,599.69 A35.00,35.00 0 0 1 791.55,598.63 L793.38,619.55 A14.00,14.00 0 0 0 790.98,619.98 Z" fill="#000080"/><path d="M785.54,599.69 L782.56,588.58 A46.50,46.50 0 0 1 790.55,587.18 L791.55,598.63 A35.00,35.00 0 0 0 785.54,599.69 Z" fill="#0000FF"/><path d="M782.56,588.58 L778.81,574.58 A61.00,61.00 0 0 1 789.28,572.73 L790.55,587.18 A46.50,46.50 0 0 0 782.56,588.58 Z" fill="#0080FF"/><path d="M778.81,574.58 L776.74,566.85 A69.00,69.00 0 0 1 788.59,564.76 L789.28,572.73 A61.00,61.00 0 0 0 778.81,574.58 Z" fill="#00FFFF"/><path d="M776.74,566.85 L775.86,563.57 A72.40,72.40 0 0 1 788.29,561.38 L788.59,564.76 A69.00,69.00 0 0 0 776.74,566.85 Z" fill="#80FF80"/><path d="M775.86,563.57 L773.64,555.26 A81.00,81.00 0 0 1 787.54,552.81 L788.29,561.38 A72.40,72.40 0 0 0 775.86,563.57 Z" fill="#FFFF00"/></g>
<circle cx="794.6" cy="633.5" r="14.0" fill="#fff"/>
<text transform="matrix(0.41758,0,0,0.42802,459.61,152.00)" font-size="100">CCNY Weather Station - Wind Rose - 20251005</text>
<text transform="matrix(0.33669,0,0,0.34510,794.41,206.90)" font-size="100">NORTH</text>
<text transform="matrix(0.33442,0,0,0.34278,795.03,1086.00)" font-size="100">SOUTH</text>
<text transform="matrix(0.33466,0,0,0.34303,1166.82,667.00)" font-size="100">EAST</text>
<text transform="matrix(0.33566,0,0,0.34406,333.06,667.00)" font-size="100">WEST</text>
<text transform="matrix(0.33603,0,0,0.34443,833.12,714.40)" font-size="100">2%</text>
<text transform="matrix(0.33603,0,0,0.34443,912.12,793.40)" font-size="100">4%</text>
<text transform="matrix(0.33603,0,0,0.34443,991.12,872.40)" font-size="100">6%</text>
<text transform="matrix(0.33358,0,0,0.34192,1070.57,951.50)" font-size="100">8%</text>
<text transform="matrix(0.41612,0,0,0.42652,1298.18,654.20)" font-size="100">Wind Speed, m/s</text>
<rect x="1297.7" y="679.50" width="42.2" height="30.5" fill="#800000" stroke="#000" stroke-width="2"/><text transform="matrix(0.33650,0,0,0.34490,1350.43,708.10)" font-size="100">4 - 4.5</text><rect x="1297.7" y="725.56" width="42.2" height="30.5" fill="#FF0000" stroke="#000" stroke-width="2"/><text transform="matrix(0.33650,0,0,0.34490,1350.43,754.16)" font-size="100">3.5 - 4</text><rect x="1297.7" y="771.62" width="42.2" height="30.5" fill="#FF8000" stroke="#000" stroke-width="2"/><text transform="matrix(0.33650,0,0,0.34490,1350.43,800.22)" font-size="100">3 - 3.5</text><rect x="1297.7" y="817.68" width="42.2" height="30.5" fill="#FFFF00" stroke="#000" stroke-width="2"/><text transform="matrix(0.33650,0,0,0.34490,1350.43,846.28)" font-size="100">2.5 - 3</text><rect x="1297.7" y="863.74" width="42.2" height="30.5" fill="#80FF80" stroke="#000" stroke-width="2"/><text transform="matrix(0.33650,0,0,0.34490,1350.43,892.34)" font-size="100">2 - 2.5</text><rect x="1297.7" y="909.80" width="42.2" height="30.5" fill="#00FFFF" stroke="#000" stroke-width="2"/><text transform="matrix(0.33650,0,0,0.34490,1350.43,938.40)" font-size="100">1.5 - 2</text><rect x="1297.7" y="955.86" width="42.2" height="30.5" fill="#0080FF" stroke="#000" stroke-width="2"/><text transform="matrix(0.33650,0,0,0.34490,1350.43,984.46)" font-size="100">1 - 1.5</text><rect x="1297.7" y="1001.92" width="42.2" height="30.5" fill="#0000FF" stroke="#000" stroke-width="2"/><text transform="matrix(0.33650,0,0,0.34490,1350.43,1030.52)" font-size="100">0.5 - 1</text><rect x="1297.7" y="1047.98" width="42.2" height="30.5" fill="#000080" stroke="#000" stroke-width="2"/><text transform="matrix(0.33650,0,0,0.34490,1350.43,1076.58)" font-size="100">0 - 0.5</text>
</g></svg>
</body></html>
